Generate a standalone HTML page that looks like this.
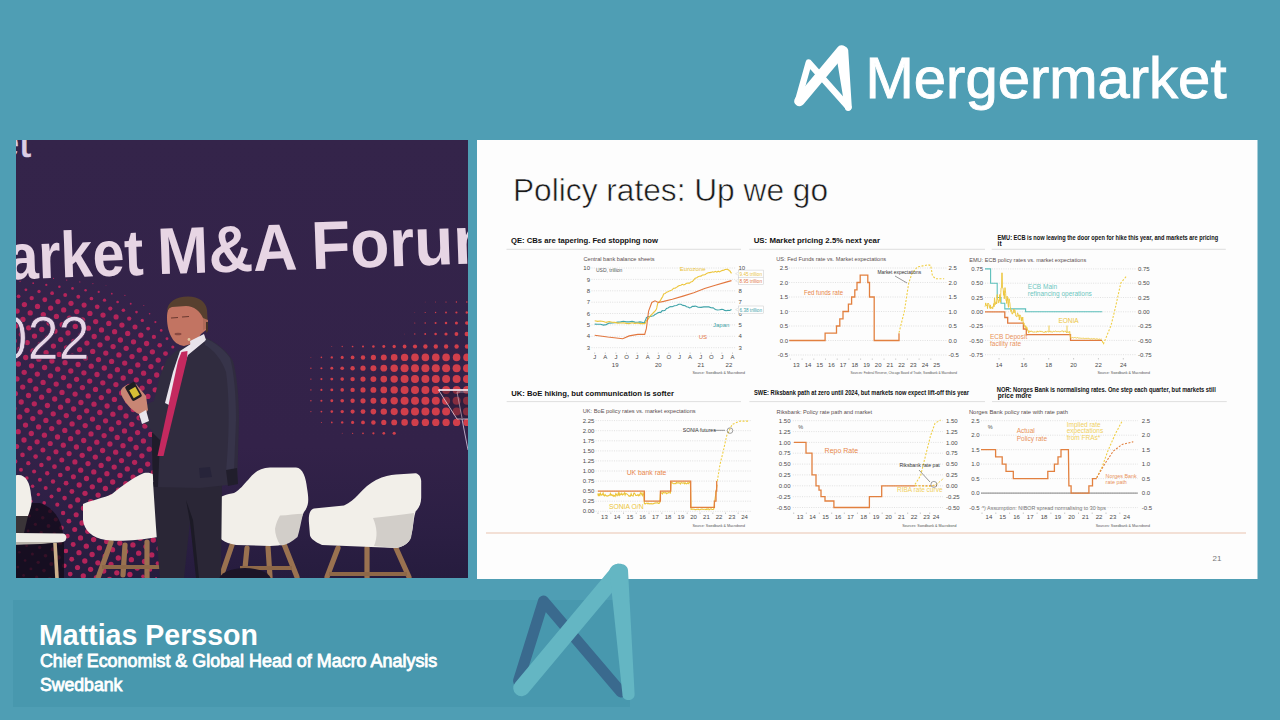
<!DOCTYPE html>
<html><head><meta charset="utf-8"><title>Mergermarket - Policy rates</title>
<style>
html,body{margin:0;padding:0;}
body{width:1280px;height:720px;overflow:hidden;background:#4f9eb4;font-family:"Liberation Sans",Arial,sans-serif;}
svg{display:block;}
</style></head><body>
<svg width="1280" height="720" viewBox="0 0 1280 720" font-family="Liberation Sans, Arial, sans-serif">
<defs>
<linearGradient id="pg" x1="0" y1="0" x2="0" y2="1"><stop offset="0" stop-color="#34244a"/><stop offset="0.7" stop-color="#332249"/><stop offset="0.88" stop-color="#2c1f44"/><stop offset="1" stop-color="#261c3e"/></linearGradient>
</defs>
<clipPath id="pc"><rect x="16" y="140" width="452" height="438"/></clipPath>
<g clip-path="url(#pc)">
<rect x="16" y="140" width="452" height="438" fill="url(#pg)"/>
<g fill="#b5245a"><circle cx="10.5" cy="573.7" r="1.32"/><circle cx="16.3" cy="582.0" r="1.32"/><circle cx="12.0" cy="558.8" r="1.32"/><circle cx="17.8" cy="567.1" r="1.32"/><circle cx="23.6" cy="575.4" r="1.32"/><circle cx="29.4" cy="583.7" r="1.43"/><circle cx="13.5" cy="544.0" r="1.32"/><circle cx="19.3" cy="552.2" r="1.32"/><circle cx="25.1" cy="560.5" r="1.33"/><circle cx="30.9" cy="568.9" r="1.47"/><circle cx="36.7" cy="577.2" r="1.61"/><circle cx="9.2" cy="520.8" r="1.32"/><circle cx="15.0" cy="529.1" r="1.32"/><circle cx="20.8" cy="537.4" r="1.32"/><circle cx="26.6" cy="545.7" r="1.36"/><circle cx="32.4" cy="554.0" r="1.50"/><circle cx="38.2" cy="562.3" r="1.64"/><circle cx="44.0" cy="570.6" r="1.78"/><circle cx="49.8" cy="578.9" r="1.92"/><circle cx="10.7" cy="506.0" r="1.32"/><circle cx="16.5" cy="514.2" r="1.32"/><circle cx="22.3" cy="522.5" r="1.32"/><circle cx="28.1" cy="530.9" r="1.40"/><circle cx="33.9" cy="539.2" r="1.54"/><circle cx="39.7" cy="547.5" r="1.68"/><circle cx="45.5" cy="555.8" r="1.82"/><circle cx="51.3" cy="564.0" r="1.96"/><circle cx="57.1" cy="572.4" r="2.10"/><circle cx="62.9" cy="580.7" r="2.24"/><circle cx="12.2" cy="491.1" r="1.52"/><circle cx="18.0" cy="499.4" r="1.34"/><circle cx="23.8" cy="507.7" r="1.32"/><circle cx="29.6" cy="516.0" r="1.44"/><circle cx="35.4" cy="524.3" r="1.58"/><circle cx="41.2" cy="532.6" r="1.72"/><circle cx="47.0" cy="540.9" r="1.85"/><circle cx="52.8" cy="549.2" r="1.99"/><circle cx="58.6" cy="557.5" r="2.13"/><circle cx="64.4" cy="565.8" r="2.27"/><circle cx="70.2" cy="574.1" r="2.41"/><circle cx="76.0" cy="582.4" r="2.55"/><circle cx="13.7" cy="476.2" r="1.85"/><circle cx="19.5" cy="484.6" r="1.67"/><circle cx="25.3" cy="492.9" r="1.49"/><circle cx="31.1" cy="501.2" r="1.47"/><circle cx="36.9" cy="509.5" r="1.61"/><circle cx="42.7" cy="517.8" r="1.75"/><circle cx="48.5" cy="526.0" r="1.89"/><circle cx="54.3" cy="534.4" r="2.03"/><circle cx="60.1" cy="542.7" r="2.17"/><circle cx="65.9" cy="551.0" r="2.31"/><circle cx="71.7" cy="559.2" r="2.45"/><circle cx="77.5" cy="567.5" r="2.59"/><circle cx="83.3" cy="575.9" r="2.65"/><circle cx="89.1" cy="584.2" r="2.65"/><circle cx="9.4" cy="453.1" r="2.36"/><circle cx="15.2" cy="461.4" r="2.18"/><circle cx="21.0" cy="469.7" r="1.99"/><circle cx="26.8" cy="478.0" r="1.84"/><circle cx="32.6" cy="486.3" r="1.77"/><circle cx="38.4" cy="494.6" r="1.74"/><circle cx="44.2" cy="502.9" r="1.79"/><circle cx="50.0" cy="511.2" r="1.93"/><circle cx="55.8" cy="519.5" r="2.07"/><circle cx="61.6" cy="527.8" r="2.21"/><circle cx="67.4" cy="536.1" r="2.35"/><circle cx="73.2" cy="544.4" r="2.49"/><circle cx="79.0" cy="552.7" r="2.63"/><circle cx="84.8" cy="561.0" r="2.65"/><circle cx="90.6" cy="569.3" r="2.65"/><circle cx="96.4" cy="577.6" r="2.65"/><circle cx="10.9" cy="438.2" r="2.65"/><circle cx="16.7" cy="446.6" r="2.51"/><circle cx="22.5" cy="454.9" r="2.32"/><circle cx="28.3" cy="463.2" r="2.17"/><circle cx="34.1" cy="471.5" r="2.07"/><circle cx="39.9" cy="479.8" r="2.01"/><circle cx="45.7" cy="488.1" r="1.99"/><circle cx="51.5" cy="496.4" r="2.01"/><circle cx="57.3" cy="504.7" r="2.10"/><circle cx="63.1" cy="513.0" r="2.24"/><circle cx="68.9" cy="521.2" r="2.38"/><circle cx="74.7" cy="529.5" r="2.52"/><circle cx="80.5" cy="537.9" r="2.65"/><circle cx="86.3" cy="546.2" r="2.65"/><circle cx="92.1" cy="554.5" r="2.65"/><circle cx="97.9" cy="562.8" r="2.65"/><circle cx="103.7" cy="571.0" r="2.65"/><circle cx="109.5" cy="579.4" r="2.65"/><circle cx="12.4" cy="423.4" r="2.65"/><circle cx="18.2" cy="431.7" r="2.65"/><circle cx="24.0" cy="440.0" r="2.65"/><circle cx="29.8" cy="448.3" r="2.48"/><circle cx="35.6" cy="456.6" r="2.35"/><circle cx="41.4" cy="464.9" r="2.26"/><circle cx="47.2" cy="473.2" r="2.21"/><circle cx="53.0" cy="481.5" r="2.20"/><circle cx="58.8" cy="489.8" r="2.23"/><circle cx="64.6" cy="498.1" r="2.29"/><circle cx="70.4" cy="506.4" r="2.42"/><circle cx="76.2" cy="514.7" r="2.56"/><circle cx="82.0" cy="523.0" r="2.65"/><circle cx="87.8" cy="531.3" r="2.65"/><circle cx="93.6" cy="539.6" r="2.65"/><circle cx="99.4" cy="547.9" r="2.65"/><circle cx="105.2" cy="556.2" r="2.65"/><circle cx="111.0" cy="564.5" r="2.65"/><circle cx="116.8" cy="572.8" r="2.65"/><circle cx="122.6" cy="581.1" r="2.49"/><circle cx="8.1" cy="400.2" r="2.65"/><circle cx="13.9" cy="408.6" r="2.65"/><circle cx="19.7" cy="416.9" r="2.65"/><circle cx="25.5" cy="425.1" r="2.65"/><circle cx="31.3" cy="433.5" r="2.65"/><circle cx="37.1" cy="441.8" r="2.62"/><circle cx="42.9" cy="450.1" r="2.50"/><circle cx="48.7" cy="458.4" r="2.42"/><circle cx="54.5" cy="466.7" r="2.38"/><circle cx="60.3" cy="475.0" r="2.37"/><circle cx="66.1" cy="483.2" r="2.41"/><circle cx="71.9" cy="491.6" r="2.48"/><circle cx="77.7" cy="499.9" r="2.59"/><circle cx="83.5" cy="508.2" r="2.65"/><circle cx="89.3" cy="516.5" r="2.65"/><circle cx="95.1" cy="524.8" r="2.65"/><circle cx="100.9" cy="533.0" r="2.65"/><circle cx="106.7" cy="541.4" r="2.65"/><circle cx="112.5" cy="549.7" r="2.65"/><circle cx="118.3" cy="558.0" r="2.65"/><circle cx="124.1" cy="566.2" r="2.65"/><circle cx="129.9" cy="574.5" r="2.65"/><circle cx="135.7" cy="582.9" r="1.76"/><circle cx="9.6" cy="385.4" r="2.65"/><circle cx="15.4" cy="393.7" r="2.65"/><circle cx="21.2" cy="402.0" r="2.65"/><circle cx="27.0" cy="410.3" r="2.65"/><circle cx="32.8" cy="418.6" r="2.65"/><circle cx="38.6" cy="426.9" r="2.65"/><circle cx="44.4" cy="435.2" r="2.65"/><circle cx="50.2" cy="443.5" r="2.61"/><circle cx="56.0" cy="451.8" r="2.54"/><circle cx="61.8" cy="460.1" r="2.50"/><circle cx="67.6" cy="468.4" r="2.51"/><circle cx="73.4" cy="476.7" r="2.55"/><circle cx="79.2" cy="485.0" r="2.64"/><circle cx="85.0" cy="493.3" r="2.65"/><circle cx="90.8" cy="501.6" r="2.65"/><circle cx="96.6" cy="509.9" r="2.65"/><circle cx="102.4" cy="518.2" r="2.65"/><circle cx="108.2" cy="526.5" r="2.65"/><circle cx="114.0" cy="534.8" r="2.65"/><circle cx="119.8" cy="543.1" r="2.65"/><circle cx="125.6" cy="551.4" r="2.65"/><circle cx="131.4" cy="559.7" r="2.65"/><circle cx="137.2" cy="568.0" r="2.65"/><circle cx="143.0" cy="576.3" r="1.87"/><circle cx="148.8" cy="584.6" r="0.97"/><circle cx="11.1" cy="370.6" r="2.65"/><circle cx="16.9" cy="378.9" r="2.65"/><circle cx="22.7" cy="387.1" r="2.65"/><circle cx="28.5" cy="395.5" r="2.65"/><circle cx="34.3" cy="403.8" r="2.65"/><circle cx="40.1" cy="412.1" r="2.65"/><circle cx="45.9" cy="420.4" r="2.65"/><circle cx="51.7" cy="428.6" r="2.65"/><circle cx="57.5" cy="437.0" r="2.65"/><circle cx="63.3" cy="445.2" r="2.61"/><circle cx="69.1" cy="453.6" r="2.59"/><circle cx="74.9" cy="461.9" r="2.61"/><circle cx="80.7" cy="470.2" r="2.65"/><circle cx="86.5" cy="478.5" r="2.65"/><circle cx="92.3" cy="486.8" r="2.65"/><circle cx="98.1" cy="495.1" r="2.65"/><circle cx="103.9" cy="503.4" r="2.65"/><circle cx="109.7" cy="511.7" r="2.65"/><circle cx="115.5" cy="520.0" r="2.65"/><circle cx="121.3" cy="528.2" r="2.65"/><circle cx="127.1" cy="536.5" r="2.65"/><circle cx="132.9" cy="544.9" r="2.65"/><circle cx="138.7" cy="553.2" r="2.65"/><circle cx="144.5" cy="561.5" r="2.65"/><circle cx="150.3" cy="569.8" r="1.93"/><circle cx="156.1" cy="578.0" r="1.03"/><circle cx="12.6" cy="355.7" r="2.65"/><circle cx="18.4" cy="364.0" r="2.65"/><circle cx="24.2" cy="372.3" r="2.65"/><circle cx="30.0" cy="380.6" r="2.65"/><circle cx="35.8" cy="388.9" r="2.65"/><circle cx="41.6" cy="397.2" r="2.65"/><circle cx="47.4" cy="405.5" r="2.65"/><circle cx="53.2" cy="413.8" r="2.65"/><circle cx="59.0" cy="422.1" r="2.65"/><circle cx="64.8" cy="430.4" r="2.65"/><circle cx="70.6" cy="438.7" r="2.65"/><circle cx="76.4" cy="447.0" r="2.64"/><circle cx="82.2" cy="455.3" r="2.65"/><circle cx="88.0" cy="463.6" r="2.65"/><circle cx="93.8" cy="471.9" r="2.65"/><circle cx="99.6" cy="480.2" r="2.65"/><circle cx="105.4" cy="488.5" r="2.65"/><circle cx="111.2" cy="496.8" r="2.65"/><circle cx="117.0" cy="505.1" r="2.65"/><circle cx="122.8" cy="513.4" r="2.65"/><circle cx="128.6" cy="521.7" r="2.65"/><circle cx="134.4" cy="530.0" r="2.65"/><circle cx="140.2" cy="538.3" r="2.65"/><circle cx="146.0" cy="546.6" r="2.65"/><circle cx="151.8" cy="554.9" r="2.65"/><circle cx="157.6" cy="563.2" r="1.93"/><circle cx="163.4" cy="571.5" r="1.04"/><circle cx="8.3" cy="332.6" r="2.65"/><circle cx="14.1" cy="340.9" r="2.65"/><circle cx="19.9" cy="349.1" r="2.65"/><circle cx="25.7" cy="357.5" r="2.65"/><circle cx="31.5" cy="365.8" r="2.65"/><circle cx="37.3" cy="374.1" r="2.65"/><circle cx="43.1" cy="382.4" r="2.65"/><circle cx="48.9" cy="390.6" r="2.65"/><circle cx="54.7" cy="399.0" r="2.65"/><circle cx="60.5" cy="407.2" r="2.65"/><circle cx="66.3" cy="415.6" r="2.65"/><circle cx="72.1" cy="423.9" r="2.65"/><circle cx="77.9" cy="432.1" r="2.65"/><circle cx="83.7" cy="440.5" r="2.65"/><circle cx="89.5" cy="448.8" r="2.65"/><circle cx="95.3" cy="457.1" r="2.65"/><circle cx="101.1" cy="465.4" r="2.65"/><circle cx="106.9" cy="473.7" r="2.65"/><circle cx="112.7" cy="482.0" r="2.65"/><circle cx="118.5" cy="490.2" r="2.65"/><circle cx="124.3" cy="498.6" r="2.65"/><circle cx="130.1" cy="506.9" r="2.65"/><circle cx="135.9" cy="515.2" r="2.65"/><circle cx="141.7" cy="523.5" r="2.65"/><circle cx="147.5" cy="531.8" r="2.65"/><circle cx="153.3" cy="540.0" r="2.65"/><circle cx="159.1" cy="548.4" r="2.65"/><circle cx="164.9" cy="556.7" r="1.88"/><circle cx="170.7" cy="565.0" r="1.00"/><circle cx="9.8" cy="317.7" r="2.65"/><circle cx="15.6" cy="326.0" r="2.65"/><circle cx="21.4" cy="334.3" r="2.65"/><circle cx="27.2" cy="342.6" r="2.65"/><circle cx="33.0" cy="350.9" r="2.65"/><circle cx="38.8" cy="359.2" r="2.65"/><circle cx="44.6" cy="367.5" r="2.65"/><circle cx="50.4" cy="375.8" r="2.65"/><circle cx="56.2" cy="384.1" r="2.65"/><circle cx="62.0" cy="392.4" r="2.65"/><circle cx="67.8" cy="400.7" r="2.65"/><circle cx="73.6" cy="409.0" r="2.65"/><circle cx="79.4" cy="417.3" r="2.65"/><circle cx="85.2" cy="425.6" r="2.65"/><circle cx="91.0" cy="433.9" r="2.65"/><circle cx="96.8" cy="442.2" r="2.65"/><circle cx="102.6" cy="450.5" r="2.65"/><circle cx="108.4" cy="458.8" r="2.65"/><circle cx="114.2" cy="467.1" r="2.65"/><circle cx="120.0" cy="475.4" r="2.65"/><circle cx="125.8" cy="483.7" r="2.65"/><circle cx="131.6" cy="492.0" r="2.65"/><circle cx="137.4" cy="500.3" r="2.65"/><circle cx="143.2" cy="508.6" r="2.65"/><circle cx="149.0" cy="516.9" r="2.65"/><circle cx="154.8" cy="525.2" r="2.65"/><circle cx="160.6" cy="533.5" r="2.65"/><circle cx="166.4" cy="541.8" r="2.63"/><circle cx="172.2" cy="550.1" r="1.77"/><circle cx="178.0" cy="558.4" r="0.91"/><circle cx="11.3" cy="302.9" r="2.28"/><circle cx="17.1" cy="311.1" r="2.65"/><circle cx="22.9" cy="319.4" r="2.65"/><circle cx="28.7" cy="327.8" r="2.65"/><circle cx="34.5" cy="336.1" r="2.65"/><circle cx="40.3" cy="344.4" r="2.65"/><circle cx="46.1" cy="352.6" r="2.65"/><circle cx="51.9" cy="361.0" r="2.65"/><circle cx="57.7" cy="369.2" r="2.65"/><circle cx="63.5" cy="377.6" r="2.65"/><circle cx="69.3" cy="385.9" r="2.65"/><circle cx="75.1" cy="394.1" r="2.65"/><circle cx="80.9" cy="402.5" r="2.65"/><circle cx="86.7" cy="410.8" r="2.65"/><circle cx="92.5" cy="419.1" r="2.65"/><circle cx="98.3" cy="427.4" r="2.65"/><circle cx="104.1" cy="435.6" r="2.65"/><circle cx="109.9" cy="444.0" r="2.65"/><circle cx="115.7" cy="452.2" r="2.65"/><circle cx="121.5" cy="460.6" r="2.65"/><circle cx="127.3" cy="468.9" r="2.65"/><circle cx="133.1" cy="477.2" r="2.65"/><circle cx="138.9" cy="485.5" r="2.65"/><circle cx="144.7" cy="493.8" r="2.65"/><circle cx="150.5" cy="502.1" r="2.65"/><circle cx="156.3" cy="510.4" r="2.65"/><circle cx="162.1" cy="518.7" r="2.65"/><circle cx="167.9" cy="527.0" r="2.65"/><circle cx="173.7" cy="535.2" r="2.45"/><circle cx="179.5" cy="543.5" r="1.61"/><circle cx="12.8" cy="288.0" r="1.04"/><circle cx="18.6" cy="296.3" r="1.87"/><circle cx="24.4" cy="304.6" r="2.65"/><circle cx="30.2" cy="312.9" r="2.65"/><circle cx="36.0" cy="321.2" r="2.65"/><circle cx="41.8" cy="329.5" r="2.65"/><circle cx="47.6" cy="337.8" r="2.65"/><circle cx="53.4" cy="346.1" r="2.65"/><circle cx="59.2" cy="354.4" r="2.65"/><circle cx="65.0" cy="362.7" r="2.65"/><circle cx="70.8" cy="371.0" r="2.65"/><circle cx="76.6" cy="379.3" r="2.65"/><circle cx="82.4" cy="387.6" r="2.65"/><circle cx="88.2" cy="395.9" r="2.65"/><circle cx="94.0" cy="404.2" r="2.65"/><circle cx="99.8" cy="412.5" r="2.65"/><circle cx="105.6" cy="420.8" r="2.65"/><circle cx="111.4" cy="429.1" r="2.65"/><circle cx="117.2" cy="437.4" r="2.65"/><circle cx="123.0" cy="445.7" r="2.65"/><circle cx="128.8" cy="454.0" r="2.65"/><circle cx="134.6" cy="462.3" r="2.65"/><circle cx="140.4" cy="470.6" r="2.65"/><circle cx="146.2" cy="478.9" r="2.65"/><circle cx="152.0" cy="487.2" r="2.65"/><circle cx="157.8" cy="495.5" r="2.65"/><circle cx="163.6" cy="503.8" r="2.65"/><circle cx="169.4" cy="512.1" r="2.65"/><circle cx="175.2" cy="520.4" r="2.65"/><circle cx="20.1" cy="281.4" r="0.60"/><circle cx="25.9" cy="289.8" r="1.41"/><circle cx="31.7" cy="298.1" r="2.20"/><circle cx="37.5" cy="306.4" r="2.65"/><circle cx="43.3" cy="314.6" r="2.65"/><circle cx="49.1" cy="322.9" r="2.65"/><circle cx="54.9" cy="331.2" r="2.65"/><circle cx="60.7" cy="339.6" r="2.65"/><circle cx="66.5" cy="347.9" r="2.65"/><circle cx="72.3" cy="356.1" r="2.65"/><circle cx="78.1" cy="364.5" r="2.65"/><circle cx="83.9" cy="372.8" r="2.65"/><circle cx="89.7" cy="381.1" r="2.65"/><circle cx="95.5" cy="389.4" r="2.65"/><circle cx="101.3" cy="397.6" r="2.65"/><circle cx="107.1" cy="406.0" r="2.65"/><circle cx="112.9" cy="414.2" r="2.65"/><circle cx="118.7" cy="422.6" r="2.65"/><circle cx="124.5" cy="430.9" r="2.65"/><circle cx="130.3" cy="439.1" r="2.65"/><circle cx="136.1" cy="447.5" r="2.65"/><circle cx="141.9" cy="455.8" r="2.65"/><circle cx="147.7" cy="464.1" r="2.65"/><circle cx="153.5" cy="472.4" r="2.65"/><circle cx="159.3" cy="480.7" r="2.65"/><circle cx="165.1" cy="489.0" r="2.65"/><circle cx="170.9" cy="497.2" r="2.65"/><circle cx="176.7" cy="505.6" r="2.65"/><circle cx="33.2" cy="283.2" r="0.91"/><circle cx="39.0" cy="291.5" r="1.69"/><circle cx="44.8" cy="299.8" r="2.45"/><circle cx="50.6" cy="308.1" r="2.65"/><circle cx="56.4" cy="316.4" r="2.65"/><circle cx="62.2" cy="324.7" r="2.65"/><circle cx="68.0" cy="333.0" r="2.65"/><circle cx="73.8" cy="341.3" r="2.65"/><circle cx="79.6" cy="349.6" r="2.65"/><circle cx="85.4" cy="357.9" r="2.65"/><circle cx="91.2" cy="366.2" r="2.65"/><circle cx="97.0" cy="374.5" r="2.65"/><circle cx="102.8" cy="382.8" r="2.65"/><circle cx="108.6" cy="391.1" r="2.65"/><circle cx="114.4" cy="399.4" r="2.65"/><circle cx="120.2" cy="407.7" r="2.65"/><circle cx="126.0" cy="416.0" r="2.65"/><circle cx="131.8" cy="424.3" r="2.65"/><circle cx="137.6" cy="432.6" r="2.65"/><circle cx="143.4" cy="440.9" r="2.65"/><circle cx="149.2" cy="449.2" r="2.65"/><circle cx="155.0" cy="457.5" r="2.65"/><circle cx="160.8" cy="465.8" r="2.65"/><circle cx="166.6" cy="474.1" r="2.65"/><circle cx="172.4" cy="482.4" r="2.65"/><circle cx="178.2" cy="490.7" r="2.65"/><circle cx="46.3" cy="284.9" r="1.14"/><circle cx="52.1" cy="293.2" r="1.88"/><circle cx="57.9" cy="301.6" r="2.59"/><circle cx="63.7" cy="309.9" r="2.65"/><circle cx="69.5" cy="318.1" r="2.65"/><circle cx="75.3" cy="326.4" r="2.65"/><circle cx="81.1" cy="334.8" r="2.65"/><circle cx="86.9" cy="343.1" r="2.65"/><circle cx="92.7" cy="351.4" r="2.65"/><circle cx="98.5" cy="359.6" r="2.65"/><circle cx="104.3" cy="368.0" r="2.65"/><circle cx="110.1" cy="376.2" r="2.65"/><circle cx="115.9" cy="384.6" r="2.65"/><circle cx="121.7" cy="392.9" r="2.65"/><circle cx="127.5" cy="401.1" r="2.65"/><circle cx="133.3" cy="409.5" r="2.65"/><circle cx="139.1" cy="417.8" r="2.65"/><circle cx="144.9" cy="426.1" r="2.65"/><circle cx="150.7" cy="434.4" r="2.65"/><circle cx="156.5" cy="442.6" r="2.65"/><circle cx="162.3" cy="451.0" r="2.65"/><circle cx="168.1" cy="459.2" r="2.65"/><circle cx="173.9" cy="467.6" r="2.65"/><circle cx="179.7" cy="475.9" r="2.65"/><circle cx="53.6" cy="278.4" r="0.56"/><circle cx="59.4" cy="286.7" r="1.27"/><circle cx="65.2" cy="295.0" r="1.97"/><circle cx="71.0" cy="303.3" r="2.63"/><circle cx="76.8" cy="311.6" r="2.65"/><circle cx="82.6" cy="319.9" r="2.65"/><circle cx="88.4" cy="328.2" r="2.65"/><circle cx="94.2" cy="336.5" r="2.65"/><circle cx="100.0" cy="344.8" r="2.65"/><circle cx="105.8" cy="353.1" r="2.65"/><circle cx="111.6" cy="361.4" r="2.65"/><circle cx="117.4" cy="369.7" r="2.65"/><circle cx="123.2" cy="378.0" r="2.65"/><circle cx="129.0" cy="386.3" r="2.65"/><circle cx="134.8" cy="394.6" r="2.65"/><circle cx="140.6" cy="402.9" r="2.65"/><circle cx="146.4" cy="411.2" r="2.65"/><circle cx="152.2" cy="419.5" r="2.65"/><circle cx="158.0" cy="427.8" r="2.65"/><circle cx="163.8" cy="436.1" r="2.65"/><circle cx="169.6" cy="444.4" r="2.65"/><circle cx="175.4" cy="452.7" r="2.65"/><circle cx="66.7" cy="280.1" r="0.65"/><circle cx="72.5" cy="288.4" r="1.32"/><circle cx="78.3" cy="296.8" r="1.96"/><circle cx="84.1" cy="305.1" r="2.57"/><circle cx="89.9" cy="313.4" r="2.65"/><circle cx="95.7" cy="321.6" r="2.65"/><circle cx="101.5" cy="329.9" r="2.65"/><circle cx="107.3" cy="338.2" r="2.65"/><circle cx="113.1" cy="346.6" r="2.65"/><circle cx="118.9" cy="354.9" r="2.65"/><circle cx="124.7" cy="363.1" r="2.65"/><circle cx="130.5" cy="371.5" r="2.65"/><circle cx="136.3" cy="379.8" r="2.65"/><circle cx="142.1" cy="388.1" r="2.65"/><circle cx="147.9" cy="396.4" r="2.65"/><circle cx="153.7" cy="404.6" r="2.65"/><circle cx="159.5" cy="413.0" r="2.65"/><circle cx="165.3" cy="421.2" r="2.65"/><circle cx="171.1" cy="429.6" r="2.65"/><circle cx="176.9" cy="437.9" r="2.65"/><circle cx="79.8" cy="281.9" r="0.64"/><circle cx="85.6" cy="290.2" r="1.26"/><circle cx="91.4" cy="298.5" r="1.85"/><circle cx="97.2" cy="306.8" r="2.40"/><circle cx="103.0" cy="315.1" r="2.65"/><circle cx="108.8" cy="323.4" r="2.65"/><circle cx="114.6" cy="331.7" r="2.65"/><circle cx="120.4" cy="340.0" r="2.65"/><circle cx="126.2" cy="348.3" r="2.65"/><circle cx="132.0" cy="356.6" r="2.65"/><circle cx="137.8" cy="364.9" r="2.65"/><circle cx="143.6" cy="373.2" r="2.65"/><circle cx="149.4" cy="381.5" r="2.65"/><circle cx="155.2" cy="389.8" r="2.65"/><circle cx="161.0" cy="398.1" r="2.65"/><circle cx="166.8" cy="406.4" r="2.65"/><circle cx="172.6" cy="414.7" r="2.65"/><circle cx="178.4" cy="423.0" r="2.65"/><circle cx="92.9" cy="283.6" r="0.55"/><circle cx="98.7" cy="291.9" r="1.11"/><circle cx="104.5" cy="300.2" r="1.65"/><circle cx="110.3" cy="308.6" r="2.14"/><circle cx="116.1" cy="316.9" r="2.59"/><circle cx="121.9" cy="325.1" r="2.65"/><circle cx="127.7" cy="333.4" r="2.65"/><circle cx="133.5" cy="341.8" r="2.65"/><circle cx="139.3" cy="350.1" r="2.65"/><circle cx="145.1" cy="358.4" r="2.65"/><circle cx="150.9" cy="366.6" r="2.65"/><circle cx="156.7" cy="375.0" r="2.65"/><circle cx="162.5" cy="383.2" r="2.65"/><circle cx="168.3" cy="391.6" r="2.65"/><circle cx="174.1" cy="399.9" r="2.65"/><circle cx="179.9" cy="408.1" r="2.65"/><circle cx="106.0" cy="285.4" r="0.37"/><circle cx="111.8" cy="293.7" r="0.88"/><circle cx="117.6" cy="302.0" r="1.35"/><circle cx="123.4" cy="310.3" r="1.78"/><circle cx="129.2" cy="318.6" r="2.17"/><circle cx="135.0" cy="326.9" r="2.51"/><circle cx="140.8" cy="335.2" r="2.65"/><circle cx="146.6" cy="343.5" r="2.65"/><circle cx="152.4" cy="351.8" r="2.65"/><circle cx="158.2" cy="360.1" r="2.65"/><circle cx="164.0" cy="368.4" r="2.65"/><circle cx="169.8" cy="376.7" r="2.65"/><circle cx="175.6" cy="385.0" r="2.65"/><circle cx="124.9" cy="295.4" r="0.55"/><circle cx="130.7" cy="303.8" r="0.97"/><circle cx="136.5" cy="312.1" r="1.34"/><circle cx="142.3" cy="320.4" r="1.67"/><circle cx="148.1" cy="328.6" r="1.94"/><circle cx="153.9" cy="336.9" r="2.16"/><circle cx="159.7" cy="345.2" r="2.32"/><circle cx="165.5" cy="353.6" r="2.43"/><circle cx="171.3" cy="361.9" r="2.48"/><circle cx="177.1" cy="370.1" r="2.46"/><circle cx="143.8" cy="305.5" r="0.51"/><circle cx="149.6" cy="313.8" r="0.82"/><circle cx="155.4" cy="322.1" r="1.08"/><circle cx="161.2" cy="330.4" r="1.30"/><circle cx="167.0" cy="338.7" r="1.46"/><circle cx="172.8" cy="347.0" r="1.57"/><circle cx="178.6" cy="355.3" r="1.62"/><circle cx="168.5" cy="323.9" r="0.43"/><circle cx="174.3" cy="332.1" r="0.59"/></g>
<g fill="#d13f4b"><circle cx="331.8" cy="346.5" r="0.44"/><circle cx="342.2" cy="346.5" r="0.64"/><circle cx="352.6" cy="346.5" r="0.85"/><circle cx="363.0" cy="346.5" r="1.06"/><circle cx="373.4" cy="346.5" r="1.27"/><circle cx="383.8" cy="346.5" r="1.48"/><circle cx="394.2" cy="346.5" r="1.68"/><circle cx="404.6" cy="346.5" r="1.89"/><circle cx="415.0" cy="346.5" r="2.10"/><circle cx="425.4" cy="346.5" r="2.20"/><circle cx="435.8" cy="346.5" r="2.20"/><circle cx="446.1" cy="346.5" r="2.20"/><circle cx="456.6" cy="346.5" r="2.20"/><circle cx="467.0" cy="346.5" r="2.20"/><circle cx="477.4" cy="346.5" r="2.20"/><circle cx="310.9" cy="357.4" r="0.45"/><circle cx="321.4" cy="357.4" r="0.81"/><circle cx="331.8" cy="357.4" r="1.17"/><circle cx="342.2" cy="357.4" r="1.53"/><circle cx="352.6" cy="357.4" r="1.88"/><circle cx="363.0" cy="357.4" r="2.24"/><circle cx="373.4" cy="357.4" r="2.60"/><circle cx="383.8" cy="357.4" r="2.96"/><circle cx="394.2" cy="357.4" r="3.32"/><circle cx="404.6" cy="357.4" r="3.68"/><circle cx="415.0" cy="357.4" r="3.80"/><circle cx="425.4" cy="357.4" r="3.80"/><circle cx="435.8" cy="357.4" r="3.80"/><circle cx="446.1" cy="357.4" r="3.80"/><circle cx="456.6" cy="357.4" r="3.80"/><circle cx="467.0" cy="357.4" r="3.80"/><circle cx="477.4" cy="357.4" r="3.80"/><circle cx="310.9" cy="368.2" r="0.69"/><circle cx="321.4" cy="368.2" r="1.07"/><circle cx="331.8" cy="368.2" r="1.45"/><circle cx="342.2" cy="368.2" r="1.82"/><circle cx="352.6" cy="368.2" r="2.20"/><circle cx="363.0" cy="368.2" r="2.58"/><circle cx="373.4" cy="368.2" r="2.96"/><circle cx="383.8" cy="368.2" r="3.34"/><circle cx="394.2" cy="368.2" r="3.71"/><circle cx="404.6" cy="368.2" r="4.00"/><circle cx="415.0" cy="368.2" r="4.00"/><circle cx="425.4" cy="368.2" r="4.00"/><circle cx="435.8" cy="368.2" r="4.00"/><circle cx="446.1" cy="368.2" r="4.00"/><circle cx="456.6" cy="368.2" r="4.00"/><circle cx="467.0" cy="368.2" r="4.00"/><circle cx="477.4" cy="368.2" r="4.00"/><circle cx="310.9" cy="379.1" r="0.69"/><circle cx="321.4" cy="379.1" r="1.07"/><circle cx="331.8" cy="379.1" r="1.45"/><circle cx="342.2" cy="379.1" r="1.82"/><circle cx="352.6" cy="379.1" r="2.20"/><circle cx="363.0" cy="379.1" r="2.58"/><circle cx="373.4" cy="379.1" r="2.96"/><circle cx="383.8" cy="379.1" r="3.34"/><circle cx="394.2" cy="379.1" r="3.71"/><circle cx="404.6" cy="379.1" r="4.00"/><circle cx="415.0" cy="379.1" r="4.00"/><circle cx="425.4" cy="379.1" r="4.00"/><circle cx="435.8" cy="379.1" r="4.00"/><circle cx="446.1" cy="379.1" r="4.00"/><circle cx="456.6" cy="379.1" r="4.00"/><circle cx="467.0" cy="379.1" r="4.00"/><circle cx="477.4" cy="379.1" r="4.00"/><circle cx="310.9" cy="389.9" r="0.69"/><circle cx="321.4" cy="389.9" r="1.07"/><circle cx="331.8" cy="389.9" r="1.45"/><circle cx="342.2" cy="389.9" r="1.82"/><circle cx="352.6" cy="389.9" r="2.20"/><circle cx="363.0" cy="389.9" r="2.58"/><circle cx="373.4" cy="389.9" r="2.96"/><circle cx="383.8" cy="389.9" r="3.34"/><circle cx="394.2" cy="389.9" r="3.71"/><circle cx="404.6" cy="389.9" r="4.00"/><circle cx="415.0" cy="389.9" r="4.00"/><circle cx="425.4" cy="389.9" r="4.00"/><circle cx="435.8" cy="389.9" r="4.00"/><circle cx="446.1" cy="389.9" r="4.00"/><circle cx="456.6" cy="389.9" r="4.00"/><circle cx="467.0" cy="389.9" r="4.00"/><circle cx="477.4" cy="389.9" r="4.00"/><circle cx="310.9" cy="400.8" r="0.69"/><circle cx="321.4" cy="400.8" r="1.07"/><circle cx="331.8" cy="400.8" r="1.45"/><circle cx="342.2" cy="400.8" r="1.82"/><circle cx="352.6" cy="400.8" r="2.20"/><circle cx="363.0" cy="400.8" r="2.58"/><circle cx="373.4" cy="400.8" r="2.96"/><circle cx="383.8" cy="400.8" r="3.34"/><circle cx="394.2" cy="400.8" r="3.71"/><circle cx="404.6" cy="400.8" r="4.00"/><circle cx="415.0" cy="400.8" r="4.00"/><circle cx="425.4" cy="400.8" r="4.00"/><circle cx="435.8" cy="400.8" r="4.00"/><circle cx="446.1" cy="400.8" r="4.00"/><circle cx="456.6" cy="400.8" r="4.00"/><circle cx="467.0" cy="400.8" r="4.00"/><circle cx="477.4" cy="400.8" r="4.00"/><circle cx="310.9" cy="411.6" r="0.54"/><circle cx="321.4" cy="411.6" r="0.92"/><circle cx="331.8" cy="411.6" r="1.30"/><circle cx="342.2" cy="411.6" r="1.68"/><circle cx="352.6" cy="411.6" r="2.06"/><circle cx="363.0" cy="411.6" r="2.43"/><circle cx="373.4" cy="411.6" r="2.81"/><circle cx="383.8" cy="411.6" r="3.19"/><circle cx="394.2" cy="411.6" r="3.57"/><circle cx="404.6" cy="411.6" r="3.95"/><circle cx="415.0" cy="411.6" r="4.00"/><circle cx="425.4" cy="411.6" r="4.00"/><circle cx="435.8" cy="411.6" r="4.00"/><circle cx="446.1" cy="411.6" r="4.00"/><circle cx="456.6" cy="411.6" r="4.00"/><circle cx="467.0" cy="411.6" r="4.00"/><circle cx="477.4" cy="411.6" r="4.00"/><circle cx="321.4" cy="422.4" r="0.51"/><circle cx="331.8" cy="422.4" r="0.86"/><circle cx="342.2" cy="422.4" r="1.21"/><circle cx="352.6" cy="422.4" r="1.56"/><circle cx="363.0" cy="422.4" r="1.91"/><circle cx="373.4" cy="422.4" r="2.25"/><circle cx="383.8" cy="422.4" r="2.60"/><circle cx="394.2" cy="422.4" r="2.95"/><circle cx="404.6" cy="422.4" r="3.30"/><circle cx="415.0" cy="422.4" r="3.64"/><circle cx="425.4" cy="422.4" r="3.68"/><circle cx="435.8" cy="422.4" r="3.68"/><circle cx="446.1" cy="422.4" r="3.68"/><circle cx="456.6" cy="422.4" r="3.68"/><circle cx="467.0" cy="422.4" r="3.68"/><circle cx="477.4" cy="422.4" r="3.68"/><circle cx="342.2" cy="433.3" r="0.44"/><circle cx="352.6" cy="433.3" r="0.67"/><circle cx="363.0" cy="433.3" r="0.89"/><circle cx="373.4" cy="433.3" r="1.12"/><circle cx="383.8" cy="433.3" r="1.35"/><circle cx="394.2" cy="433.3" r="1.57"/><circle cx="425.2" cy="302.0" r="0.36"/><circle cx="435.6" cy="302.0" r="0.48"/><circle cx="446.0" cy="302.0" r="0.59"/><circle cx="456.4" cy="302.0" r="0.71"/><circle cx="466.8" cy="302.0" r="0.83"/><circle cx="414.8" cy="312.5" r="0.37"/><circle cx="425.2" cy="312.5" r="0.56"/><circle cx="435.6" cy="312.5" r="0.74"/><circle cx="446.0" cy="312.5" r="0.93"/><circle cx="456.4" cy="312.5" r="1.11"/><circle cx="466.8" cy="312.5" r="1.30"/><circle cx="414.8" cy="323.0" r="0.51"/><circle cx="425.2" cy="323.0" r="0.76"/><circle cx="435.6" cy="323.0" r="1.01"/><circle cx="446.0" cy="323.0" r="1.26"/><circle cx="456.4" cy="323.0" r="1.52"/><circle cx="466.8" cy="323.0" r="1.77"/><circle cx="404.4" cy="334.0" r="0.32"/><circle cx="414.8" cy="334.0" r="0.64"/><circle cx="425.2" cy="334.0" r="0.96"/><circle cx="435.6" cy="334.0" r="1.28"/><circle cx="446.0" cy="334.0" r="1.60"/><circle cx="456.4" cy="334.0" r="1.92"/><circle cx="466.8" cy="334.0" r="2.24"/></g>
<g transform="rotate(-2.0 242 271.3)" fill="#e7d5e4" font-family="Liberation Sans, Arial, sans-serif" font-weight="bold" font-size="66">
<text x="7" y="271.3" font-size="65" textLength="137" lengthAdjust="spacingAndGlyphs">arket</text>
<text x="158" y="271.3" textLength="140" lengthAdjust="spacingAndGlyphs">M&amp;A</text>
<text x="312" y="271.6" font-size="68" textLength="199" lengthAdjust="spacingAndGlyphs">Forum</text>
</g>
<text x="-35" y="359.2" fill="#e6d5e6" font-family="Liberation Sans, Arial, sans-serif" font-size="61" stroke="#33224a" stroke-width="0.7" textLength="124.8" lengthAdjust="spacingAndGlyphs">2022</text>
<text x="-4" y="157.3" fill="#dccde6" font-family="Liberation Sans, Arial, sans-serif" font-size="42" stroke="#dccde6" stroke-width="0.6">et</text>
<polygon points="438.5,390 470,390 470,419 457,419" fill="#2a1830" fill-opacity="0.45" stroke="#e6d2dc" stroke-width="0.8"/>
<line x1="438.5" y1="390" x2="470" y2="390" stroke="#f2e4ea" stroke-width="1.6"/>
<polyline points="457,392 470,392 M457,392" fill="none" stroke="#e0c8d4" stroke-width="0.6"/>
<line x1="457" y1="392" x2="462" y2="418" stroke="#d8c0cc" stroke-width="0.6"/>
<line x1="462" y1="419" x2="468" y2="450" stroke="#c8b8d0" stroke-width="0.9"/>
<path d="M16,503 L40,503 C55,508 64,522 64,545 L64,578 L16,578 Z" fill="#120a18" fill-opacity="0.78"/>
<path d="M10,478 C22,470 30,478 31,495 C33,503 30,510 28,516 L10,518 Z" fill="#f2efe9"/>
<path d="M16,516 L28,516 L24,533 L16,533 Z" fill="#3a3438"/>
<line x1="55" y1="543" x2="57" y2="578" stroke="#cdb08c" stroke-width="3.6"/>
<path d="M10,533 L63,533.5 C67.5,534 67.5,541 63,542 L40,543.5 L10,544.5 Z" fill="#eeebe6"/>
<path d="M10,542 L63,542 L40,544 L10,545 Z" fill="#b8b2aa"/>
<line x1="111" y1="542" x2="98" y2="578" stroke="#9a7250" stroke-width="5.2" stroke-linecap="round"/>
<line x1="147" y1="542" x2="147" y2="578" stroke="#9a7250" stroke-width="5.2" stroke-linecap="round"/>
<line x1="125" y1="545" x2="123" y2="575" stroke="#9a7250" stroke-width="5.2" stroke-linecap="round"/>
<line x1="102" y1="567" x2="160" y2="567" stroke="#8e6848" stroke-width="4"/>
<path d="M83,504 C92,500 104,498 112,494 C122,486 132,478 144,473 C150,472 156,474 158,480 L158,537 C140,540 118,542 106,540 C92,538 84,530 83,520 Z" fill="#f2efe9"/>
<line x1="232" y1="545" x2="221" y2="577" stroke="#9a7250" stroke-width="5.2" stroke-linecap="round"/>
<line x1="247" y1="548" x2="245" y2="568" stroke="#9a7250" stroke-width="5.2" stroke-linecap="round"/>
<line x1="284" y1="544" x2="297" y2="577" stroke="#9a7250" stroke-width="5.2" stroke-linecap="round"/>
<line x1="268" y1="547" x2="270" y2="577" stroke="#9a7250" stroke-width="5.2" stroke-linecap="round"/>
<line x1="240" y1="568" x2="292" y2="568" stroke="#8e6848" stroke-width="4"/>
<path d="M216.5,502 C218,496 228,494 234,493 C240,490 244,484 248,480 C254,472 260,468 270,467.5 L296,467.5 C303,468 306,478 307,488 C309,500 309,506 304,512 C300,520 299,530 296,537 C290,543 282,546 270,546 L236,545 C224,543 217,538 216,530 Z" fill="#f2efe9"/>
<path d="M280,515.6 C288,515 296,514 303,513.7 C301,522 299.5,531 297.5,537 C292,542 286,545 280.6,545.6 C277,540 275,534 275,528.7 C276,523 278,519 280,515.6 Z" fill="#d2cec9"/>
<line x1="338" y1="548" x2="327" y2="577" stroke="#9a7250" stroke-width="5.2" stroke-linecap="round"/>
<line x1="396" y1="548" x2="409" y2="577" stroke="#9a7250" stroke-width="5.2" stroke-linecap="round"/>
<line x1="367" y1="548" x2="367" y2="578" stroke="#9a7250" stroke-width="5.2" stroke-linecap="round"/>
<line x1="329" y1="574" x2="407" y2="574" stroke="#8e6848" stroke-width="4"/>
<path d="M308.9,522 C308.5,514 310,509.5 314,508.5 L344,505.5 C350,503 354,499 358,495 C364,488 370,483 376,480 C384,476 390,475 396,474.5 L415.6,473.3 C419,474 421,477 421.2,481 L421.2,497.8 C421,504 419,508 415.6,511.5 C414,517 413.5,522 413,526 C412,533 410.5,538 409,541 C406,545 401,547.5 395.6,548 L322,545 C315,542 311,539 310,535.6 Z" fill="#f2efe9"/>
<path d="M373,518 C388,516 402,515 414,513 C413.5,522 412.5,530 411,538 C409,543 403,547 395.6,548 L374,546 C378,537 377,527 373,518 Z" fill="#d2cec9"/>
<path d="M153,482 L222,482 L221,578 L198,578 L190,522 L184,578 L160,578 C157,545 155,512 153,482 Z" fill="#2a2636"/>
<path d="M186,500 L190,522 L196,578 L199,578 L193,520 Z" fill="#1c1a26"/>
<path d="M176,351 L204,337 C214,341 226,349 233,361 C237,375 239,398 239,420 L238,455 L237,484 L200,488 L154,487 C152,470 152,450 153,432 L147,425 L139,419 L143,406 L154,401 C157,386 161,371 167,359 Z" fill="#302c3f"/>
<path d="M205,338 C214,342 224,349 230,358 C234,372 236,395 236,420 L234,470 L226,472 C229,440 230,400 226,372 C222,360 214,350 205,345 Z" fill="#37344a"/>
<path d="M226,470 L237,468 L238,484 L228,486 Z" fill="#211e2c"/>
<path d="M152,432 L160,440 L158,487 L154,487 C152,470 152,450 152,432 Z" fill="#1f1c2a"/>
<path d="M180,351 L203,336 L205,341 L188,355 L169,405 L165,403 L173,372 Z" fill="#ebe6ee"/>
<path d="M181.5,352 L187.5,351 L187,359 L163.5,456 L157.5,456 L178,361 Z" fill="#c4295f"/>
<path d="M121,390 C124,385 130,383 136,384 L146,396 L148,410 L143,416 C134,413 125,404 121,394 Z" fill="#c88674"/>
<rect x="128" y="383" width="11" height="17" rx="2" fill="#1e1e22" transform="rotate(-30 133.5 391.5)"/>
<rect x="131" y="388" width="7" height="9" fill="#d6c035" transform="rotate(-30 134.5 392.5)"/>
<path d="M139,414 L146,410 L149,421 L142,424 Z" fill="#e9e6ec"/>
<path d="M199,468 L210,467 L212,477 L200,478 Z" fill="#27243a"/>
<path d="M167,318 C167,310 169,305 175,304 L190,303 C198,304 203,310 204,318 L207,322 L206,330 L201,334 C198,339 195,342 191,344 L184,346 C178,345 174,342 172,338 C169,333 167,326 167,318 Z" fill="#c27462"/>
<path d="M167,312 C167,302 176,296.5 188,296.5 C199,296.5 206,302 207,310 L208,326 L204,329 L203,318 C200,311 194,306 186,306 L172,307 C169,308 167,310 167,314 Z" fill="#57402f"/>
<path d="M203,318 L208,320 L208,328 L203,330 Z" fill="#b06a58"/>
<path d="M190,341 L204,334 L206,340 L191,350 Z" fill="#e8e3ea"/>
<circle cx="189" cy="339.5" r="1.4" fill="#e2c8a0"/>
<path d="M171,318 L178,317.5 M182,317 L189,316.5" stroke="#6a3a30" stroke-width="1.2"/>
<ellipse cx="178" cy="334" rx="3.5" ry="1.3" fill="#8a4a42"/>
<path d="M206,322 L208,322 L208,331 L206,333 Z" fill="#4a3428"/>
<ellipse cx="245" cy="580" rx="26" ry="12" fill="#1c1528"/>
</g>
<rect x="477" y="140" width="780.5" height="439" fill="#fdfdfd"/>
<text x="513.0" y="201.0" font-size="32" fill="#1a1a1a" textLength="315" lengthAdjust="spacingAndGlyphs" stroke="#fdfdfd" stroke-width="0.55">Policy rates: Up we go</text>
<text x="511.0" y="243.3" font-size="8" fill="#111" font-weight="bold" textLength="147" lengthAdjust="spacingAndGlyphs">QE: CBs are tapering. Fed stopping now</text>
<text x="753.7" y="243.3" font-size="8" fill="#111" font-weight="bold" textLength="126.3" lengthAdjust="spacingAndGlyphs">US: Market pricing 2.5% next year</text>
<text x="997.6" y="240.0" font-size="6.6" fill="#111" font-weight="bold" textLength="220.5" lengthAdjust="spacingAndGlyphs">EMU: ECB is now leaving the door open for hike this year, and markets are pricing</text>
<text x="997.6" y="245.7" font-size="6.6" fill="#111" font-weight="bold">it</text>
<line x1="506.5" y1="249.3" x2="741.0" y2="249.3" stroke="#d6d6d6" stroke-width="0.8"/>
<line x1="749.3" y1="249.3" x2="985.0" y2="249.3" stroke="#d6d6d6" stroke-width="0.8"/>
<line x1="991.7" y1="249.3" x2="1225.8" y2="249.3" stroke="#d6d6d6" stroke-width="0.8"/>
<text x="511.2" y="396.0" font-size="8" fill="#111" font-weight="bold" textLength="162.7" lengthAdjust="spacingAndGlyphs">UK: BoE hiking, but communication is softer</text>
<text x="754.0" y="395.2" font-size="6.6" fill="#111" font-weight="bold" textLength="215" lengthAdjust="spacingAndGlyphs">SWE: Riksbank path at zero until 2024, but markets now expect lift-off this year</text>
<text x="996.8" y="392.4" font-size="6.6" fill="#111" font-weight="bold" textLength="219" lengthAdjust="spacingAndGlyphs">NOR: Norges Bank is normalising rates. One step each quarter, but markets still</text>
<text x="997.8" y="398.4" font-size="6.6" fill="#111" font-weight="bold">price more</text>
<line x1="506.7" y1="401.6" x2="741.0" y2="401.6" stroke="#d6d6d6" stroke-width="0.8"/>
<line x1="749.4" y1="401.6" x2="985.0" y2="401.6" stroke="#d6d6d6" stroke-width="0.8"/>
<line x1="992.0" y1="401.6" x2="1226.7" y2="401.6" stroke="#d6d6d6" stroke-width="0.8"/>
<line x1="486.0" y1="533.0" x2="1246.0" y2="533.0" stroke="#efd6c8" stroke-width="1.5"/>
<text x="1217.0" y="561.0" font-size="8" fill="#777" text-anchor="middle">21</text>
<text x="583.5" y="261.0" font-size="6" fill="#5a4e4e" textLength="71" lengthAdjust="spacingAndGlyphs">Central bank balance sheets</text>
<text x="596.0" y="272.0" font-size="5" fill="#555">USD, trillion</text>
<line x1="591.5" y1="268.0" x2="736.0" y2="268.0" stroke="#cfcfcf" stroke-width="0.6" stroke-dasharray="1,1.3"/>
<line x1="591.5" y1="279.4" x2="736.0" y2="279.4" stroke="#cfcfcf" stroke-width="0.6" stroke-dasharray="1,1.3"/>
<line x1="591.5" y1="290.8" x2="736.0" y2="290.8" stroke="#cfcfcf" stroke-width="0.6" stroke-dasharray="1,1.3"/>
<line x1="591.5" y1="302.2" x2="736.0" y2="302.2" stroke="#cfcfcf" stroke-width="0.6" stroke-dasharray="1,1.3"/>
<line x1="591.5" y1="313.5" x2="736.0" y2="313.5" stroke="#cfcfcf" stroke-width="0.6" stroke-dasharray="1,1.3"/>
<line x1="591.5" y1="324.9" x2="736.0" y2="324.9" stroke="#cfcfcf" stroke-width="0.6" stroke-dasharray="1,1.3"/>
<line x1="591.5" y1="336.3" x2="736.0" y2="336.3" stroke="#cfcfcf" stroke-width="0.6" stroke-dasharray="1,1.3"/>
<line x1="591.5" y1="347.7" x2="736.0" y2="347.7" stroke="#cfcfcf" stroke-width="0.6" stroke-dasharray="1,1.3"/>
<text x="590.0" y="270.1" font-size="6" fill="#4a4a4a" text-anchor="end">10</text>
<text x="738.5" y="270.1" font-size="6" fill="#4a4a4a">10</text>
<text x="590.0" y="281.5" font-size="6" fill="#4a4a4a" text-anchor="end">9</text>
<text x="738.5" y="281.5" font-size="6" fill="#4a4a4a">9</text>
<text x="590.0" y="292.9" font-size="6" fill="#4a4a4a" text-anchor="end">8</text>
<text x="738.5" y="292.9" font-size="6" fill="#4a4a4a">8</text>
<text x="590.0" y="304.3" font-size="6" fill="#4a4a4a" text-anchor="end">7</text>
<text x="738.5" y="304.3" font-size="6" fill="#4a4a4a">7</text>
<text x="590.0" y="315.6" font-size="6" fill="#4a4a4a" text-anchor="end">6</text>
<text x="738.5" y="315.6" font-size="6" fill="#4a4a4a">6</text>
<text x="590.0" y="327.0" font-size="6" fill="#4a4a4a" text-anchor="end">5</text>
<text x="738.5" y="327.0" font-size="6" fill="#4a4a4a">5</text>
<text x="590.0" y="338.4" font-size="6" fill="#4a4a4a" text-anchor="end">4</text>
<text x="738.5" y="338.4" font-size="6" fill="#4a4a4a">4</text>
<text x="590.0" y="349.8" font-size="6" fill="#4a4a4a" text-anchor="end">3</text>
<text x="738.5" y="349.8" font-size="6" fill="#4a4a4a">3</text>
<text x="594.7" y="359.0" font-size="6" fill="#4a4a4a" text-anchor="middle">J</text>
<line x1="594.7" y1="352.5" x2="594.7" y2="353.8" stroke="#999" stroke-width="0.5"/>
<text x="605.3" y="359.0" font-size="6" fill="#4a4a4a" text-anchor="middle">A</text>
<line x1="605.3" y1="352.5" x2="605.3" y2="353.8" stroke="#999" stroke-width="0.5"/>
<text x="615.9" y="359.0" font-size="6" fill="#4a4a4a" text-anchor="middle">J</text>
<line x1="615.9" y1="352.5" x2="615.9" y2="353.8" stroke="#999" stroke-width="0.5"/>
<text x="626.5" y="359.0" font-size="6" fill="#4a4a4a" text-anchor="middle">O</text>
<line x1="626.5" y1="352.5" x2="626.5" y2="353.8" stroke="#999" stroke-width="0.5"/>
<text x="637.1" y="359.0" font-size="6" fill="#4a4a4a" text-anchor="middle">J</text>
<line x1="637.1" y1="352.5" x2="637.1" y2="353.8" stroke="#999" stroke-width="0.5"/>
<text x="647.7" y="359.0" font-size="6" fill="#4a4a4a" text-anchor="middle">A</text>
<line x1="647.7" y1="352.5" x2="647.7" y2="353.8" stroke="#999" stroke-width="0.5"/>
<text x="658.3" y="359.0" font-size="6" fill="#4a4a4a" text-anchor="middle">J</text>
<line x1="658.3" y1="352.5" x2="658.3" y2="353.8" stroke="#999" stroke-width="0.5"/>
<text x="668.9" y="359.0" font-size="6" fill="#4a4a4a" text-anchor="middle">O</text>
<line x1="668.9" y1="352.5" x2="668.9" y2="353.8" stroke="#999" stroke-width="0.5"/>
<text x="679.5" y="359.0" font-size="6" fill="#4a4a4a" text-anchor="middle">J</text>
<line x1="679.5" y1="352.5" x2="679.5" y2="353.8" stroke="#999" stroke-width="0.5"/>
<text x="690.1" y="359.0" font-size="6" fill="#4a4a4a" text-anchor="middle">A</text>
<line x1="690.1" y1="352.5" x2="690.1" y2="353.8" stroke="#999" stroke-width="0.5"/>
<text x="700.7" y="359.0" font-size="6" fill="#4a4a4a" text-anchor="middle">J</text>
<line x1="700.7" y1="352.5" x2="700.7" y2="353.8" stroke="#999" stroke-width="0.5"/>
<text x="711.3" y="359.0" font-size="6" fill="#4a4a4a" text-anchor="middle">O</text>
<line x1="711.3" y1="352.5" x2="711.3" y2="353.8" stroke="#999" stroke-width="0.5"/>
<text x="721.9" y="359.0" font-size="6" fill="#4a4a4a" text-anchor="middle">J</text>
<line x1="721.9" y1="352.5" x2="721.9" y2="353.8" stroke="#999" stroke-width="0.5"/>
<text x="732.5" y="359.0" font-size="6" fill="#4a4a4a" text-anchor="middle">A</text>
<line x1="732.5" y1="352.5" x2="732.5" y2="353.8" stroke="#999" stroke-width="0.5"/>
<text x="615.2" y="367.0" font-size="6" fill="#4a4a4a" text-anchor="middle">19</text>
<text x="658.3" y="367.0" font-size="6" fill="#4a4a4a" text-anchor="middle">20</text>
<text x="700.9" y="367.0" font-size="6" fill="#4a4a4a" text-anchor="middle">21</text>
<text x="728.9" y="367.0" font-size="6" fill="#4a4a4a" text-anchor="middle">22</text>
<text x="745.0" y="374.0" font-size="3.6" fill="#555" text-anchor="end">Source: Swedbank &amp; Macrobond</text>
<polyline points="594.7,324.1 597.6,324.2 600.5,324.3 603.4,325.1 606.2,324.6 609.1,323.1 612.0,323.0 614.8,322.7 617.7,322.1 620.6,321.9 623.5,321.3 626.3,321.9 629.2,321.9 632.1,321.4 634.9,322.1 637.8,322.3 640.0,321.9 642.1,322.2 644.3,323.0 645.0,321.1 645.7,319.8 646.4,317.6 647.9,316.7 649.3,316.5 650.7,316.5 652.2,316.0 653.6,315.7 655.0,314.4 656.5,313.8 657.9,312.8 659.3,312.2 660.8,312.4 662.2,310.6 663.7,310.7 665.1,310.3 666.5,308.5 668.0,307.9 669.4,307.0 670.8,306.6 672.3,306.8 674.4,305.7 676.6,305.5 678.7,304.2 680.9,304.3 683.0,305.4 685.2,305.7 686.6,306.7 688.1,307.0 689.5,307.9 690.9,307.5 692.4,306.3 693.8,306.4 695.2,306.1 696.7,306.6 698.1,307.3 701.0,307.4 703.8,306.9 706.7,306.8 708.9,306.9 711.0,307.7 713.2,307.9 713.9,308.4 714.6,308.8 715.3,309.6 717.5,310.0 719.6,309.8 721.8,309.4 723.2,309.5 724.7,310.4 726.1,310.7 727.9,310.4 729.7,310.5 731.5,309.6" fill="none" stroke="#3fa3a8" stroke-width="1.1"/>
<polyline points="594.7,320.8 597.6,321.4 600.5,321.0 603.4,321.5 606.2,322.4 609.1,321.5 612.0,322.3 614.8,322.4 617.7,323.1 620.6,323.0 623.5,322.7 626.3,323.4 629.2,323.6 632.1,322.8 634.9,323.4 637.8,323.0 640.1,323.6 642.4,323.5 644.7,323.6 645.3,323.2 645.9,321.5 646.4,320.8 647.9,319.3 649.3,317.4 650.7,315.4 652.2,314.1 653.6,312.5 655.0,311.1 655.6,310.5 656.2,309.6 656.8,307.9 657.0,306.4 657.3,305.3 657.6,303.6 658.6,301.9 659.5,301.7 660.4,300.4 661.5,298.4 662.6,296.7 663.7,293.9 665.1,293.6 666.5,292.2 668.0,291.8 669.4,290.9 670.8,290.6 672.3,289.6 673.7,288.2 675.1,288.1 676.6,287.4 678.0,286.3 679.4,285.5 680.9,285.3 682.3,284.3 683.7,285.0 685.2,284.2 686.6,283.3 688.1,283.1 689.5,283.1 690.9,281.9 692.4,281.5 693.8,279.9 695.2,278.2 696.7,277.7 698.1,276.7 699.5,276.2 701.0,276.1 702.4,275.0 703.8,274.9 705.3,274.5 706.7,273.4 708.2,272.8 709.6,272.6 711.0,272.4 712.5,271.8 713.9,272.2 715.3,271.3 716.8,272.2 718.2,271.2 719.6,271.9 721.1,270.9 722.5,270.4 723.9,270.2 725.0,269.5 726.1,269.5 727.2,269.1 727.9,269.8 728.6,269.8 729.3,270.7 730.0,270.9 730.8,272.4 731.5,273.4" fill="none" stroke="#ecc53a" stroke-width="1.1"/>
<polyline points="594.7,335.2 607.7,337.0 622.7,338.7 629.2,335.9 637.8,334.4 644.7,334.4 646.4,328.4 648.6,311.1 651.8,302.5 655.0,300.8 658.3,302.5 663.7,301.4 672.3,299.3 683.0,296.1 693.8,292.8 704.6,288.5 715.3,285.3 726.1,282.1 731.5,280.6" fill="none" stroke="#e2773f" stroke-width="1.1"/>
<text x="679.8" y="271.0" font-size="6" fill="#e9c23a">Eurozone</text>
<text x="713.0" y="327.0" font-size="6" fill="#3fa3a8">Japan</text>
<text x="698.7" y="338.5" font-size="6" fill="#e2773f">US</text>
<rect x="738.3" y="270.09999999999997" width="25" height="7.2" fill="#fff" stroke="#c8c8c8" stroke-width="0.5"/>
<path d="M738.3,272.2 L735.5,273.7 L738.3,275.2" fill="#fff" stroke="#c8c8c8" stroke-width="0.4"/>
<text x="739.5" y="275.6" font-size="5.2" fill="#e9c23a" textLength="22.5" lengthAdjust="spacingAndGlyphs">9.45 trillion</text>
<rect x="738.3" y="277.2" width="25" height="7.2" fill="#fff" stroke="#c8c8c8" stroke-width="0.5"/>
<path d="M738.3,279.3 L735.5,280.8 L738.3,282.3" fill="#fff" stroke="#c8c8c8" stroke-width="0.4"/>
<text x="739.5" y="282.7" font-size="5.2" fill="#e2773f" textLength="22.5" lengthAdjust="spacingAndGlyphs">8.95 trillion</text>
<rect x="738.3" y="306.0" width="25" height="7.2" fill="#fff" stroke="#c8c8c8" stroke-width="0.5"/>
<path d="M738.3,308.1 L735.5,309.6 L738.3,311.1" fill="#fff" stroke="#c8c8c8" stroke-width="0.4"/>
<text x="739.5" y="311.5" font-size="5.2" fill="#3fa3a8" textLength="22.5" lengthAdjust="spacingAndGlyphs">6.38 trillion</text>
<text x="776.2" y="261.0" font-size="6" fill="#5a4e4e" textLength="110" lengthAdjust="spacingAndGlyphs">US: Fed Funds rate vs. Market expectations</text>
<line x1="789.0" y1="268.0" x2="946.5" y2="268.0" stroke="#cfcfcf" stroke-width="0.6" stroke-dasharray="1,1.3"/>
<line x1="789.0" y1="282.5" x2="946.5" y2="282.5" stroke="#cfcfcf" stroke-width="0.6" stroke-dasharray="1,1.3"/>
<line x1="789.0" y1="297.0" x2="946.5" y2="297.0" stroke="#cfcfcf" stroke-width="0.6" stroke-dasharray="1,1.3"/>
<line x1="789.0" y1="311.5" x2="946.5" y2="311.5" stroke="#cfcfcf" stroke-width="0.6" stroke-dasharray="1,1.3"/>
<line x1="789.0" y1="326.0" x2="946.5" y2="326.0" stroke="#cfcfcf" stroke-width="0.6" stroke-dasharray="1,1.3"/>
<line x1="789.0" y1="340.5" x2="946.5" y2="340.5" stroke="#cfcfcf" stroke-width="0.6" stroke-dasharray="1,1.3"/>
<line x1="789.0" y1="355.0" x2="946.5" y2="355.0" stroke="#cfcfcf" stroke-width="0.6" stroke-dasharray="1,1.3"/>
<text x="788.0" y="270.1" font-size="6" fill="#4a4a4a" text-anchor="end">2.5</text>
<text x="948.5" y="270.1" font-size="6" fill="#4a4a4a">2.5</text>
<text x="788.0" y="284.6" font-size="6" fill="#4a4a4a" text-anchor="end">2.0</text>
<text x="948.5" y="284.6" font-size="6" fill="#4a4a4a">2.0</text>
<text x="788.0" y="299.1" font-size="6" fill="#4a4a4a" text-anchor="end">1.5</text>
<text x="948.5" y="299.1" font-size="6" fill="#4a4a4a">1.5</text>
<text x="788.0" y="313.6" font-size="6" fill="#4a4a4a" text-anchor="end">1.0</text>
<text x="948.5" y="313.6" font-size="6" fill="#4a4a4a">1.0</text>
<text x="788.0" y="328.1" font-size="6" fill="#4a4a4a" text-anchor="end">0.5</text>
<text x="948.5" y="328.1" font-size="6" fill="#4a4a4a">0.5</text>
<text x="788.0" y="342.6" font-size="6" fill="#4a4a4a" text-anchor="end">0.0</text>
<text x="948.5" y="342.6" font-size="6" fill="#4a4a4a">0.0</text>
<text x="788.0" y="357.1" font-size="6" fill="#4a4a4a" text-anchor="end">-0.5</text>
<text x="948.5" y="357.1" font-size="6" fill="#4a4a4a">-0.5</text>
<text x="796.3" y="366.5" font-size="6" fill="#4a4a4a" text-anchor="middle">13</text>
<line x1="790.4" y1="358.5" x2="790.4" y2="359.8" stroke="#999" stroke-width="0.5"/>
<text x="808.0" y="366.5" font-size="6" fill="#4a4a4a" text-anchor="middle">14</text>
<line x1="802.1" y1="358.5" x2="802.1" y2="359.8" stroke="#999" stroke-width="0.5"/>
<text x="819.7" y="366.5" font-size="6" fill="#4a4a4a" text-anchor="middle">15</text>
<line x1="813.8" y1="358.5" x2="813.8" y2="359.8" stroke="#999" stroke-width="0.5"/>
<text x="831.4" y="366.5" font-size="6" fill="#4a4a4a" text-anchor="middle">16</text>
<line x1="825.5" y1="358.5" x2="825.5" y2="359.8" stroke="#999" stroke-width="0.5"/>
<text x="843.1" y="366.5" font-size="6" fill="#4a4a4a" text-anchor="middle">17</text>
<line x1="837.2" y1="358.5" x2="837.2" y2="359.8" stroke="#999" stroke-width="0.5"/>
<text x="854.8" y="366.5" font-size="6" fill="#4a4a4a" text-anchor="middle">18</text>
<line x1="848.9" y1="358.5" x2="848.9" y2="359.8" stroke="#999" stroke-width="0.5"/>
<text x="866.5" y="366.5" font-size="6" fill="#4a4a4a" text-anchor="middle">19</text>
<line x1="860.6" y1="358.5" x2="860.6" y2="359.8" stroke="#999" stroke-width="0.5"/>
<text x="878.2" y="366.5" font-size="6" fill="#4a4a4a" text-anchor="middle">20</text>
<line x1="872.3" y1="358.5" x2="872.3" y2="359.8" stroke="#999" stroke-width="0.5"/>
<text x="889.9" y="366.5" font-size="6" fill="#4a4a4a" text-anchor="middle">21</text>
<line x1="884.0" y1="358.5" x2="884.0" y2="359.8" stroke="#999" stroke-width="0.5"/>
<text x="901.6" y="366.5" font-size="6" fill="#4a4a4a" text-anchor="middle">22</text>
<line x1="895.7" y1="358.5" x2="895.7" y2="359.8" stroke="#999" stroke-width="0.5"/>
<text x="913.3" y="366.5" font-size="6" fill="#4a4a4a" text-anchor="middle">23</text>
<line x1="907.4" y1="358.5" x2="907.4" y2="359.8" stroke="#999" stroke-width="0.5"/>
<text x="925.0" y="366.5" font-size="6" fill="#4a4a4a" text-anchor="middle">24</text>
<line x1="919.1" y1="358.5" x2="919.1" y2="359.8" stroke="#999" stroke-width="0.5"/>
<text x="936.7" y="366.5" font-size="6" fill="#4a4a4a" text-anchor="middle">25</text>
<line x1="930.8" y1="358.5" x2="930.8" y2="359.8" stroke="#999" stroke-width="0.5"/>
<text x="850.5" y="374.0" font-size="3.6" fill="#555" textLength="106.5" lengthAdjust="spacingAndGlyphs">Sources: Federal Reserve, Chicago Board of Trade, Swedbank &amp; Macrobond</text>
<polyline points="789.2,340.5 825.1,340.5 825.1,333.2 836.5,333.2 836.5,326.0 839.8,326.0 839.8,318.8 843.0,318.8 843.0,311.5 848.4,311.5 848.4,304.2 851.6,304.2 851.6,297.0 854.8,297.0 854.8,289.8 857.0,289.8 857.0,282.5 860.2,282.5 860.2,275.2 867.8,275.2 867.8,282.5 869.5,282.5 869.5,297.0 874.2,297.0 874.2,340.5 899.0,340.5 899.0,333.2" fill="none" stroke="#e2803f" stroke-width="1.3"/>
<polyline points="899.0,332.7 904.4,311.2 908.7,283.2 911.9,273.5 917.3,267.0 922.7,265.9 928.1,264.8 930.7,265.5 932.4,275.6 935.6,278.8 944.2,278.8" fill="none" stroke="#f0cf45" stroke-width="1.1" stroke-dasharray="2,1.5"/>
<text x="877.5" y="273.5" font-size="5.2" fill="#333" textLength="43.7" lengthAdjust="spacingAndGlyphs">Market expectations</text>
<line x1="895.0" y1="276.0" x2="907.0" y2="283.0" stroke="#333" stroke-width="0.5"/>
<text x="804.0" y="294.5" font-size="7" fill="#e8874a" textLength="39" lengthAdjust="spacingAndGlyphs">Fed funds rate</text>
<text x="969.2" y="261.5" font-size="6" fill="#5a4e4e" textLength="117" lengthAdjust="spacingAndGlyphs">EMU: ECB policy rates vs. market expectations</text>
<line x1="985.0" y1="268.9" x2="1136.0" y2="268.9" stroke="#cfcfcf" stroke-width="0.6" stroke-dasharray="1,1.3"/>
<line x1="985.0" y1="283.2" x2="1136.0" y2="283.2" stroke="#cfcfcf" stroke-width="0.6" stroke-dasharray="1,1.3"/>
<line x1="985.0" y1="297.5" x2="1136.0" y2="297.5" stroke="#cfcfcf" stroke-width="0.6" stroke-dasharray="1,1.3"/>
<line x1="985.0" y1="311.8" x2="1136.0" y2="311.8" stroke="#cfcfcf" stroke-width="0.6" stroke-dasharray="1,1.3"/>
<line x1="985.0" y1="326.1" x2="1136.0" y2="326.1" stroke="#cfcfcf" stroke-width="0.6" stroke-dasharray="1,1.3"/>
<line x1="985.0" y1="340.4" x2="1136.0" y2="340.4" stroke="#cfcfcf" stroke-width="0.6" stroke-dasharray="1,1.3"/>
<line x1="985.0" y1="354.7" x2="1136.0" y2="354.7" stroke="#cfcfcf" stroke-width="0.6" stroke-dasharray="1,1.3"/>
<text x="983.0" y="271.0" font-size="6" fill="#4a4a4a" text-anchor="end">0.75</text>
<text x="1138.0" y="271.0" font-size="6" fill="#4a4a4a">0.75</text>
<text x="983.0" y="285.3" font-size="6" fill="#4a4a4a" text-anchor="end">0.50</text>
<text x="1138.0" y="285.3" font-size="6" fill="#4a4a4a">0.50</text>
<text x="983.0" y="299.6" font-size="6" fill="#4a4a4a" text-anchor="end">0.25</text>
<text x="1138.0" y="299.6" font-size="6" fill="#4a4a4a">0.25</text>
<text x="983.0" y="313.9" font-size="6" fill="#4a4a4a" text-anchor="end">0.00</text>
<text x="1138.0" y="313.9" font-size="6" fill="#4a4a4a">0.00</text>
<text x="983.0" y="328.2" font-size="6" fill="#4a4a4a" text-anchor="end">-0.25</text>
<text x="1138.0" y="328.2" font-size="6" fill="#4a4a4a">-0.25</text>
<text x="983.0" y="342.5" font-size="6" fill="#4a4a4a" text-anchor="end">-0.50</text>
<text x="1138.0" y="342.5" font-size="6" fill="#4a4a4a">-0.50</text>
<text x="983.0" y="356.8" font-size="6" fill="#4a4a4a" text-anchor="end">-0.75</text>
<text x="1138.0" y="356.8" font-size="6" fill="#4a4a4a">-0.75</text>
<text x="999.0" y="366.5" font-size="6" fill="#4a4a4a" text-anchor="middle">14</text>
<line x1="999.0" y1="358.0" x2="999.0" y2="359.5" stroke="#999" stroke-width="0.5"/>
<text x="1023.9" y="366.5" font-size="6" fill="#4a4a4a" text-anchor="middle">16</text>
<line x1="1023.9" y1="358.0" x2="1023.9" y2="359.5" stroke="#999" stroke-width="0.5"/>
<text x="1048.7" y="366.5" font-size="6" fill="#4a4a4a" text-anchor="middle">18</text>
<line x1="1048.7" y1="358.0" x2="1048.7" y2="359.5" stroke="#999" stroke-width="0.5"/>
<text x="1073.6" y="366.5" font-size="6" fill="#4a4a4a" text-anchor="middle">20</text>
<line x1="1073.6" y1="358.0" x2="1073.6" y2="359.5" stroke="#999" stroke-width="0.5"/>
<text x="1098.4" y="366.5" font-size="6" fill="#4a4a4a" text-anchor="middle">22</text>
<line x1="1098.4" y1="358.0" x2="1098.4" y2="359.5" stroke="#999" stroke-width="0.5"/>
<text x="1123.3" y="366.5" font-size="6" fill="#4a4a4a" text-anchor="middle">24</text>
<line x1="1123.3" y1="358.0" x2="1123.3" y2="359.5" stroke="#999" stroke-width="0.5"/>
<text x="1150.0" y="374.0" font-size="3.6" fill="#555" text-anchor="end">Source: Swedbank &amp; Macrobond</text>
<polyline points="985.0,268.9 990.6,268.9 990.6,283.2 997.2,283.2 997.2,297.5 1001.0,297.5 1001.0,303.2 1004.8,303.2 1004.8,308.9 1025.6,308.9 1025.6,311.8 1102.2,311.8" fill="none" stroke="#5cc0bc" stroke-width="1.1"/>
<polyline points="985.0,311.8 1004.8,311.8 1004.8,317.5 1007.7,317.5 1007.7,323.2 1023.4,323.2 1023.4,329.0 1026.3,329.0 1026.3,334.7 1070.5,334.7 1070.5,340.4 1102.0,340.4" fill="none" stroke="#e07b40" stroke-width="1.3"/>
<polyline points="985.0,306.6 985.4,305.4 985.7,302.9 986.1,304.6 986.4,305.7 986.8,305.1 987.1,304.7 987.5,308.6 987.8,303.3 988.2,304.0 988.5,303.4 988.9,303.9 989.2,306.5 989.6,306.4 989.9,308.3 990.3,304.9 990.6,308.5 991.0,308.5 991.3,307.6 991.7,307.9 992.0,306.8 992.4,308.6 992.7,308.9 993.1,306.2 993.4,306.5 993.8,303.5 994.1,306.7 994.5,297.8 994.8,300.2 995.2,304.7 995.5,303.4 995.9,302.2 996.2,301.8 996.6,304.0 996.9,296.3 997.3,294.5 997.6,299.7 998.0,299.3 998.3,303.1 998.7,302.7 999.0,300.0 999.4,300.5 999.7,294.5 1000.1,301.1 1000.4,302.3 1000.8,292.5 1001.1,287.8 1001.5,287.8 1001.8,272.9 1002.2,272.9 1002.5,287.8 1002.9,287.8 1003.2,289.1 1003.6,295.3 1003.9,290.8 1004.3,298.8 1004.6,292.8 1005.0,287.6 1005.3,290.1 1005.7,293.4 1006.0,300.3 1006.4,299.8 1006.7,303.5 1007.1,296.1 1007.4,300.3 1007.8,297.9 1008.1,305.0 1008.5,307.4 1008.8,300.3 1009.2,298.8 1009.5,301.6 1009.9,303.2 1010.2,306.9 1010.6,307.8 1010.9,311.6 1011.3,309.9 1011.6,311.3 1012.0,313.9 1012.3,314.2 1012.7,312.8 1013.0,313.2 1013.4,310.6 1013.7,309.1 1014.1,312.9 1014.4,309.8 1014.8,309.8 1015.1,310.3 1015.5,314.7 1015.8,316.0 1016.2,316.2 1016.5,316.7 1016.9,317.0 1017.2,314.4 1017.6,312.8 1017.9,313.6 1018.3,316.3 1018.6,315.5 1019.0,314.8 1019.3,320.0 1019.7,316.3 1020.0,314.9 1020.4,316.1 1020.7,316.6 1021.1,318.8 1021.4,321.2 1021.8,317.3 1022.1,320.7 1022.5,317.8 1022.8,317.0 1023.2,323.8 1023.5,324.3 1023.9,322.9 1024.2,324.2 1024.6,326.6 1024.9,327.2 1025.3,327.7 1025.6,325.6 1026.0,326.4 1026.3,329.2 1026.7,327.3 1027.0,327.3 1027.4,328.9 1027.7,330.5 1028.1,330.3 1028.4,332.2 1028.8,333.1 1029.1,330.8 1029.5,331.4 1029.8,331.6 1030.2,330.9 1030.8,331.8 1031.4,331.0 1032.0,331.1 1032.6,332.1 1033.2,332.1 1033.8,332.0 1034.4,332.1 1035.0,331.5 1035.6,332.1 1036.2,331.8 1036.8,332.3 1037.3,330.9 1037.9,331.9 1038.5,331.7 1039.1,331.5 1039.7,331.0 1040.3,331.8 1040.9,330.9 1041.5,331.6 1042.1,331.6 1042.7,331.6 1043.3,332.5 1043.9,331.8 1044.5,332.2 1045.1,332.5 1045.7,331.1 1046.3,332.2 1046.9,331.7 1047.5,331.3 1048.1,331.6 1048.7,331.9 1049.3,331.6 1049.9,331.6 1050.5,331.2 1051.1,332.3 1051.7,331.5 1052.3,332.1 1052.9,332.0 1053.5,331.2 1054.1,331.6 1054.7,331.5 1055.3,331.2 1055.9,330.9 1056.5,331.7 1057.1,331.5 1057.7,331.6 1058.3,331.6 1058.9,331.3 1059.5,331.7 1060.1,331.6 1060.7,331.7 1061.3,330.9 1061.9,331.3 1062.5,331.0 1063.1,330.9 1063.7,332.1 1064.3,331.5 1064.9,330.9 1065.5,331.1 1066.1,332.3 1066.7,332.3 1067.3,331.7 1067.9,332.4 1068.5,332.1 1069.1,332.4 1069.7,331.4 1070.3,337.4 1070.9,337.3 1071.5,337.9 1072.1,337.5 1072.7,337.6 1073.3,338.0 1073.9,337.5 1074.5,337.5 1075.1,338.0 1075.7,337.5 1076.3,338.0 1076.9,337.9 1077.5,337.6 1078.1,337.7 1078.7,338.2 1079.3,338.1 1079.9,338.1 1080.5,338.2 1081.1,338.3 1081.7,338.3 1082.3,338.0 1082.9,338.6 1083.5,338.2 1084.1,338.3 1084.7,338.7 1085.3,338.5 1085.9,338.3 1086.5,338.4 1087.1,338.8 1087.7,338.2 1088.3,338.3 1088.9,338.2 1089.5,338.9 1090.1,338.8 1090.7,339.0 1091.3,338.5 1091.9,338.9 1092.5,339.0 1093.1,338.8 1093.7,338.5 1094.3,338.6 1094.9,339.0 1095.5,339.2 1096.1,338.7 1096.7,338.9 1097.3,338.9 1097.9,339.3 1098.5,339.4 1099.1,339.0 1099.7,339.2 1100.3,339.5 1100.9,338.9 1101.5,339.1" fill="none" stroke="#ecc53a" stroke-width="0.9"/>
<line x1="1049.0" y1="331.8" x2="1049.0" y2="325.5" stroke="#ecc53a" stroke-width="0.9"/>
<line x1="1067.0" y1="333.0" x2="1067.0" y2="325.5" stroke="#ecc53a" stroke-width="0.9"/>
<polyline points="1102.2,340.9 1103.3,344.2 1111.0,325.6 1115.3,308.1 1120.8,283.0 1126.3,276.4" fill="none" stroke="#f0cf45" stroke-width="1.1" stroke-dasharray="2,1.5"/>
<text x="1027.8" y="289.0" font-size="6.5" fill="#6cc6c0">ECB Main</text>
<text x="1027.8" y="296.3" font-size="6.5" fill="#6cc6c0">refinancing operations</text>
<text x="1058.4" y="323.0" font-size="6.5" fill="#ecc53a">EONIA</text>
<text x="990.0" y="338.5" font-size="6.5" fill="#e8925a">ECB Deposit</text>
<text x="990.0" y="345.6" font-size="6.5" fill="#e8925a">facility rate</text>
<text x="582.7" y="413.0" font-size="6" fill="#5a4e4e" textLength="113" lengthAdjust="spacingAndGlyphs">UK: BoE policy rates vs. market expectations</text>
<line x1="595.6" y1="420.6" x2="752.0" y2="420.6" stroke="#cfcfcf" stroke-width="0.6" stroke-dasharray="1,1.3"/>
<line x1="595.6" y1="430.7" x2="752.0" y2="430.7" stroke="#cfcfcf" stroke-width="0.6" stroke-dasharray="1,1.3"/>
<line x1="595.6" y1="440.8" x2="752.0" y2="440.8" stroke="#cfcfcf" stroke-width="0.6" stroke-dasharray="1,1.3"/>
<line x1="595.6" y1="450.9" x2="752.0" y2="450.9" stroke="#cfcfcf" stroke-width="0.6" stroke-dasharray="1,1.3"/>
<line x1="595.6" y1="460.9" x2="752.0" y2="460.9" stroke="#cfcfcf" stroke-width="0.6" stroke-dasharray="1,1.3"/>
<line x1="595.6" y1="471.0" x2="752.0" y2="471.0" stroke="#cfcfcf" stroke-width="0.6" stroke-dasharray="1,1.3"/>
<line x1="595.6" y1="481.1" x2="752.0" y2="481.1" stroke="#cfcfcf" stroke-width="0.6" stroke-dasharray="1,1.3"/>
<line x1="595.6" y1="491.2" x2="752.0" y2="491.2" stroke="#cfcfcf" stroke-width="0.6" stroke-dasharray="1,1.3"/>
<line x1="595.6" y1="501.2" x2="752.0" y2="501.2" stroke="#cfcfcf" stroke-width="0.6" stroke-dasharray="1,1.3"/>
<line x1="595.6" y1="511.3" x2="752.0" y2="511.3" stroke="#cfcfcf" stroke-width="0.6" stroke-dasharray="1,1.3"/>
<text x="594.4" y="422.7" font-size="6" fill="#4a4a4a" text-anchor="end">2.25</text>
<text x="594.4" y="432.8" font-size="6" fill="#4a4a4a" text-anchor="end">2.00</text>
<text x="594.4" y="442.9" font-size="6" fill="#4a4a4a" text-anchor="end">1.75</text>
<text x="594.4" y="453.0" font-size="6" fill="#4a4a4a" text-anchor="end">1.50</text>
<text x="594.4" y="463.0" font-size="6" fill="#4a4a4a" text-anchor="end">1.25</text>
<text x="594.4" y="473.1" font-size="6" fill="#4a4a4a" text-anchor="end">1.00</text>
<text x="594.4" y="483.2" font-size="6" fill="#4a4a4a" text-anchor="end">0.75</text>
<text x="594.4" y="493.3" font-size="6" fill="#4a4a4a" text-anchor="end">0.50</text>
<text x="594.4" y="503.3" font-size="6" fill="#4a4a4a" text-anchor="end">0.25</text>
<text x="594.4" y="513.4" font-size="6" fill="#4a4a4a" text-anchor="end">0.00</text>
<text x="604.4" y="519.0" font-size="6" fill="#4a4a4a" text-anchor="middle">13</text>
<line x1="598.0" y1="512.5" x2="598.0" y2="514.0" stroke="#999" stroke-width="0.5"/>
<text x="617.1" y="519.0" font-size="6" fill="#4a4a4a" text-anchor="middle">14</text>
<line x1="610.8" y1="512.5" x2="610.8" y2="514.0" stroke="#999" stroke-width="0.5"/>
<text x="629.9" y="519.0" font-size="6" fill="#4a4a4a" text-anchor="middle">15</text>
<line x1="623.5" y1="512.5" x2="623.5" y2="514.0" stroke="#999" stroke-width="0.5"/>
<text x="642.6" y="519.0" font-size="6" fill="#4a4a4a" text-anchor="middle">16</text>
<line x1="636.2" y1="512.5" x2="636.2" y2="514.0" stroke="#999" stroke-width="0.5"/>
<text x="655.4" y="519.0" font-size="6" fill="#4a4a4a" text-anchor="middle">17</text>
<line x1="649.0" y1="512.5" x2="649.0" y2="514.0" stroke="#999" stroke-width="0.5"/>
<text x="668.1" y="519.0" font-size="6" fill="#4a4a4a" text-anchor="middle">18</text>
<line x1="661.8" y1="512.5" x2="661.8" y2="514.0" stroke="#999" stroke-width="0.5"/>
<text x="680.9" y="519.0" font-size="6" fill="#4a4a4a" text-anchor="middle">19</text>
<line x1="674.5" y1="512.5" x2="674.5" y2="514.0" stroke="#999" stroke-width="0.5"/>
<text x="693.6" y="519.0" font-size="6" fill="#4a4a4a" text-anchor="middle">20</text>
<line x1="687.2" y1="512.5" x2="687.2" y2="514.0" stroke="#999" stroke-width="0.5"/>
<text x="706.4" y="519.0" font-size="6" fill="#4a4a4a" text-anchor="middle">21</text>
<line x1="700.0" y1="512.5" x2="700.0" y2="514.0" stroke="#999" stroke-width="0.5"/>
<text x="719.1" y="519.0" font-size="6" fill="#4a4a4a" text-anchor="middle">22</text>
<line x1="712.8" y1="512.5" x2="712.8" y2="514.0" stroke="#999" stroke-width="0.5"/>
<text x="731.9" y="519.0" font-size="6" fill="#4a4a4a" text-anchor="middle">23</text>
<line x1="725.5" y1="512.5" x2="725.5" y2="514.0" stroke="#999" stroke-width="0.5"/>
<text x="744.6" y="519.0" font-size="6" fill="#4a4a4a" text-anchor="middle">24</text>
<line x1="738.2" y1="512.5" x2="738.2" y2="514.0" stroke="#999" stroke-width="0.5"/>
<text x="745.0" y="526.5" font-size="3.6" fill="#555" text-anchor="end">Source: Swedbank &amp; Macrobond</text>
<polyline points="597.8,493.5 598.4,496.1 599.1,493.3 599.8,496.1 600.4,493.3 601.1,494.7 601.8,495.2 602.4,494.4 603.1,493.0 603.8,495.4 604.4,495.9 605.1,494.5 605.8,495.5 606.4,496.0 607.1,495.8 607.8,496.2 608.4,495.7 609.1,495.3 609.8,495.3 610.4,493.6 611.1,495.3 611.8,494.6 612.4,495.7 613.1,495.1 613.8,496.3 614.4,495.5 615.1,496.3 615.8,493.7 616.4,494.4 617.1,495.7 617.8,494.7 618.4,493.0 619.1,496.0 619.8,493.4 620.4,494.8 621.1,494.6 621.8,493.4 622.4,495.0 623.1,494.6 623.8,493.9 624.4,492.8 625.1,495.1 625.8,493.4 626.4,493.8 627.1,494.1 627.8,494.9 628.4,495.1 629.1,496.2 629.8,495.9 630.4,496.1 631.1,493.7 631.8,495.5 632.4,495.8 633.1,496.1 633.8,493.3 634.4,493.2 635.1,494.0 635.8,495.4 636.4,495.5 637.1,495.3 637.8,494.7 638.4,495.8 639.1,494.8 639.8,495.4 640.4,492.9 641.1,492.9 641.8,494.4 642.4,495.5 643.1,492.9 643.8,495.3 644.4,503.5 645.1,504.0 645.8,503.4 646.4,503.3 647.1,503.2 647.8,503.7 648.4,503.2 649.1,504.0 649.8,503.6 650.4,503.9 651.1,503.4 651.8,504.0 652.4,504.0 653.1,503.6 653.8,503.7 654.4,503.1 655.1,503.2 655.8,502.8 656.4,503.0 657.1,502.9 657.8,502.6 658.4,503.4 659.1,503.5 659.8,502.5 660.4,493.7 661.1,492.8 661.8,492.9 662.4,493.9 663.1,492.6 663.8,492.5 664.4,493.0 665.1,492.8 665.8,492.7 666.4,493.7 667.1,493.1 667.8,493.2 668.4,492.6 669.1,492.7 669.8,492.6 670.4,493.0 671.1,482.5 671.8,482.8 672.4,482.8 673.1,483.5 673.8,483.8 674.4,483.7 675.1,483.3 675.8,483.7 676.4,482.5 677.1,483.0 677.8,482.9 678.4,482.9 679.1,482.8 679.8,483.1 680.4,483.9 681.1,482.6 681.8,482.7 682.4,483.1 683.1,483.0 683.8,482.8 684.4,483.8 685.1,482.7 685.8,483.5 686.4,483.8 687.1,483.5 687.8,482.7 688.4,483.6 689.1,482.7 689.8,482.3 690.4,483.1 691.1,509.4 691.8,509.3 692.4,509.1 693.1,509.1 693.8,509.2 694.4,509.2 695.1,509.6 695.8,509.6 696.4,509.5 697.1,509.1 697.8,509.4 698.4,509.2 699.1,509.7 699.8,509.6 700.4,509.5 701.1,509.1 701.8,509.1 702.4,509.1 703.1,509.5 703.8,509.3 704.4,509.3 705.1,509.3 705.8,509.6 706.4,509.0 707.1,509.5 707.8,508.9 708.4,508.9 709.1,509.7 709.8,509.3 710.4,509.0 711.1,508.9 711.8,509.3 712.4,509.5 713.1,509.5 713.8,508.9 714.4,503.2 715.1,498.6 715.8,493.9 716.4,489.3 717.1,484.6" fill="none" stroke="#ecc53a" stroke-width="1.1"/>
<polyline points="597.8,491.2 644.4,491.2 644.4,501.2 660.4,501.2 660.4,491.2 670.7,491.2 670.7,481.1 690.7,481.1 690.7,507.3 714.4,507.3 714.4,501.2 716.0,501.2 716.0,491.2 716.7,491.2 716.7,481.1" fill="none" stroke="#e2803f" stroke-width="1.3"/>
<polyline points="717.3,481.1 720.0,464.4 723.3,451.1 726.7,435.6 732.2,424.4 740.0,421.1 749.0,421.1" fill="none" stroke="#f0cf45" stroke-width="1.1" stroke-dasharray="2,1.5"/>
<text x="682.7" y="432.2" font-size="5.2" fill="#333">SONIA futures</text>
<line x1="714.0" y1="430.3" x2="725.0" y2="430.3" stroke="#333" stroke-width="0.5"/>
<circle cx="730" cy="430.6" r="2.8" fill="none" stroke="#444" stroke-width="0.5"/>
<text x="626.7" y="474.5" font-size="6.8" fill="#e8874a">UK bank rate</text>
<text x="608.9" y="509.2" font-size="6.8" fill="#ecc53a">SONIA O/N</text>
<text x="776.6" y="414.0" font-size="6" fill="#5a4e4e" textLength="95.5" lengthAdjust="spacingAndGlyphs">Riksbank: Policy rate path and market</text>
<line x1="792.8" y1="420.7" x2="943.0" y2="420.7" stroke="#cfcfcf" stroke-width="0.6" stroke-dasharray="1,1.3"/>
<line x1="792.8" y1="431.6" x2="943.0" y2="431.6" stroke="#cfcfcf" stroke-width="0.6" stroke-dasharray="1,1.3"/>
<line x1="792.8" y1="442.4" x2="943.0" y2="442.4" stroke="#cfcfcf" stroke-width="0.6" stroke-dasharray="1,1.3"/>
<line x1="792.8" y1="453.2" x2="943.0" y2="453.2" stroke="#cfcfcf" stroke-width="0.6" stroke-dasharray="1,1.3"/>
<line x1="792.8" y1="464.1" x2="943.0" y2="464.1" stroke="#cfcfcf" stroke-width="0.6" stroke-dasharray="1,1.3"/>
<line x1="792.8" y1="474.9" x2="943.0" y2="474.9" stroke="#cfcfcf" stroke-width="0.6" stroke-dasharray="1,1.3"/>
<line x1="792.8" y1="485.8" x2="943.0" y2="485.8" stroke="#cfcfcf" stroke-width="0.6" stroke-dasharray="1,1.3"/>
<line x1="792.8" y1="496.7" x2="943.0" y2="496.7" stroke="#cfcfcf" stroke-width="0.6" stroke-dasharray="1,1.3"/>
<line x1="792.8" y1="507.5" x2="943.0" y2="507.5" stroke="#cfcfcf" stroke-width="0.6" stroke-dasharray="1,1.3"/>
<text x="790.5" y="422.8" font-size="6" fill="#4a4a4a" text-anchor="end">1.50</text>
<text x="946.0" y="422.8" font-size="6" fill="#4a4a4a">1.50</text>
<text x="790.5" y="433.7" font-size="6" fill="#4a4a4a" text-anchor="end">1.25</text>
<text x="946.0" y="433.7" font-size="6" fill="#4a4a4a">1.25</text>
<text x="790.5" y="444.5" font-size="6" fill="#4a4a4a" text-anchor="end">1.00</text>
<text x="946.0" y="444.5" font-size="6" fill="#4a4a4a">1.00</text>
<text x="790.5" y="455.4" font-size="6" fill="#4a4a4a" text-anchor="end">0.75</text>
<text x="946.0" y="455.4" font-size="6" fill="#4a4a4a">0.75</text>
<text x="790.5" y="466.2" font-size="6" fill="#4a4a4a" text-anchor="end">0.50</text>
<text x="946.0" y="466.2" font-size="6" fill="#4a4a4a">0.50</text>
<text x="790.5" y="477.1" font-size="6" fill="#4a4a4a" text-anchor="end">0.25</text>
<text x="946.0" y="477.1" font-size="6" fill="#4a4a4a">0.25</text>
<text x="790.5" y="487.9" font-size="6" fill="#4a4a4a" text-anchor="end">0.00</text>
<text x="946.0" y="487.9" font-size="6" fill="#4a4a4a">0.00</text>
<text x="790.5" y="498.8" font-size="6" fill="#4a4a4a" text-anchor="end">-0.25</text>
<text x="946.0" y="498.8" font-size="6" fill="#4a4a4a">-0.25</text>
<text x="790.5" y="509.6" font-size="6" fill="#4a4a4a" text-anchor="end">-0.50</text>
<text x="946.0" y="509.6" font-size="6" fill="#4a4a4a">-0.50</text>
<text x="800.0" y="519.0" font-size="6" fill="#4a4a4a" text-anchor="middle">13</text>
<line x1="793.7" y1="512.5" x2="793.7" y2="514.0" stroke="#999" stroke-width="0.5"/>
<text x="812.6" y="519.0" font-size="6" fill="#4a4a4a" text-anchor="middle">14</text>
<line x1="806.3" y1="512.5" x2="806.3" y2="514.0" stroke="#999" stroke-width="0.5"/>
<text x="825.6" y="519.0" font-size="6" fill="#4a4a4a" text-anchor="middle">15</text>
<line x1="819.3" y1="512.5" x2="819.3" y2="514.0" stroke="#999" stroke-width="0.5"/>
<text x="838.0" y="519.0" font-size="6" fill="#4a4a4a" text-anchor="middle">16</text>
<line x1="831.7" y1="512.5" x2="831.7" y2="514.0" stroke="#999" stroke-width="0.5"/>
<text x="850.6" y="519.0" font-size="6" fill="#4a4a4a" text-anchor="middle">17</text>
<line x1="844.3" y1="512.5" x2="844.3" y2="514.0" stroke="#999" stroke-width="0.5"/>
<text x="863.7" y="519.0" font-size="6" fill="#4a4a4a" text-anchor="middle">18</text>
<line x1="857.4" y1="512.5" x2="857.4" y2="514.0" stroke="#999" stroke-width="0.5"/>
<text x="876.0" y="519.0" font-size="6" fill="#4a4a4a" text-anchor="middle">19</text>
<line x1="869.7" y1="512.5" x2="869.7" y2="514.0" stroke="#999" stroke-width="0.5"/>
<text x="888.5" y="519.0" font-size="6" fill="#4a4a4a" text-anchor="middle">20</text>
<line x1="882.2" y1="512.5" x2="882.2" y2="514.0" stroke="#999" stroke-width="0.5"/>
<text x="901.4" y="519.0" font-size="6" fill="#4a4a4a" text-anchor="middle">21</text>
<line x1="895.1" y1="512.5" x2="895.1" y2="514.0" stroke="#999" stroke-width="0.5"/>
<text x="914.0" y="519.0" font-size="6" fill="#4a4a4a" text-anchor="middle">22</text>
<line x1="907.7" y1="512.5" x2="907.7" y2="514.0" stroke="#999" stroke-width="0.5"/>
<text x="926.6" y="519.0" font-size="6" fill="#4a4a4a" text-anchor="middle">23</text>
<line x1="920.3" y1="512.5" x2="920.3" y2="514.0" stroke="#999" stroke-width="0.5"/>
<text x="936.0" y="519.0" font-size="6" fill="#4a4a4a" text-anchor="middle">24</text>
<line x1="929.7" y1="512.5" x2="929.7" y2="514.0" stroke="#999" stroke-width="0.5"/>
<text x="956.5" y="526.5" font-size="3.6" fill="#555" text-anchor="end">Sources: Swedbank &amp; Macrobond</text>
<text x="798.3" y="429.0" font-size="5.5" fill="#555">%</text>
<polyline points="793.9,442.4 806.0,442.4 806.0,453.2 812.0,453.2 812.0,474.9 816.0,474.9 816.0,485.8 819.0,485.8 819.0,490.1 821.0,490.1 821.0,496.7 825.0,496.7 825.0,501.0 833.9,501.0 833.9,507.5 869.4,507.5 869.4,496.7 881.7,496.7 881.7,485.8 915.0,485.8" fill="none" stroke="#e2803f" stroke-width="1.3"/>
<line x1="915.0" y1="485.8" x2="937.0" y2="485.8" stroke="#e2803f" stroke-width="1.1" stroke-dasharray="2,1.5"/>
<polyline points="915.0,484.4 920.6,475.6 926.1,453.3 930.6,435.6 935.0,423.3 940.6,420.0" fill="none" stroke="#f0cf45" stroke-width="1.1" stroke-dasharray="2,1.5"/>
<polyline points="915.0,485.5 930.0,486.5 937.0,484.0 944.0,478.0" fill="none" stroke="#f0cf45" stroke-width="1.0" stroke-dasharray="2,1.5"/>
<text x="824.6" y="453.3" font-size="7" fill="#e8874a">Repo Rate</text>
<text x="899.4" y="467.0" font-size="5.2" fill="#333">Riksbank rate pat</text>
<line x1="919.0" y1="470.0" x2="930.0" y2="482.0" stroke="#333" stroke-width="0.5"/>
<circle cx="933.9" cy="484.4" r="3" fill="none" stroke="#444" stroke-width="0.5"/>
<text x="897.0" y="491.8" font-size="6.5" fill="#f0d060">RIBA rate curve</text>
<text x="968.9" y="413.5" font-size="6" fill="#5a4e4e" textLength="99" lengthAdjust="spacingAndGlyphs">Norges Bank policy rate with rate path</text>
<line x1="981.0" y1="420.7" x2="1138.0" y2="420.7" stroke="#cfcfcf" stroke-width="0.6" stroke-dasharray="1,1.3"/>
<line x1="981.0" y1="435.2" x2="1138.0" y2="435.2" stroke="#cfcfcf" stroke-width="0.6" stroke-dasharray="1,1.3"/>
<line x1="981.0" y1="449.7" x2="1138.0" y2="449.7" stroke="#cfcfcf" stroke-width="0.6" stroke-dasharray="1,1.3"/>
<line x1="981.0" y1="464.1" x2="1138.0" y2="464.1" stroke="#cfcfcf" stroke-width="0.6" stroke-dasharray="1,1.3"/>
<line x1="981.0" y1="478.6" x2="1138.0" y2="478.6" stroke="#cfcfcf" stroke-width="0.6" stroke-dasharray="1,1.3"/>
<line x1="981.0" y1="493.1" x2="1138.0" y2="493.1" stroke="#cfcfcf" stroke-width="0.6" stroke-dasharray="1,1.3"/>
<line x1="981.0" y1="507.6" x2="1138.0" y2="507.6" stroke="#cfcfcf" stroke-width="0.6" stroke-dasharray="1,1.3"/>
<text x="979.5" y="422.8" font-size="6" fill="#4a4a4a" text-anchor="end">2.5</text>
<text x="1141.8" y="422.8" font-size="6" fill="#4a4a4a">2.5</text>
<text x="979.5" y="437.3" font-size="6" fill="#4a4a4a" text-anchor="end">2.0</text>
<text x="1141.8" y="437.3" font-size="6" fill="#4a4a4a">2.0</text>
<text x="979.5" y="451.8" font-size="6" fill="#4a4a4a" text-anchor="end">1.5</text>
<text x="1141.8" y="451.8" font-size="6" fill="#4a4a4a">1.5</text>
<text x="979.5" y="466.2" font-size="6" fill="#4a4a4a" text-anchor="end">1.0</text>
<text x="1141.8" y="466.2" font-size="6" fill="#4a4a4a">1.0</text>
<text x="979.5" y="480.7" font-size="6" fill="#4a4a4a" text-anchor="end">0.5</text>
<text x="1141.8" y="480.7" font-size="6" fill="#4a4a4a">0.5</text>
<text x="979.5" y="495.2" font-size="6" fill="#4a4a4a" text-anchor="end">0.0</text>
<text x="1141.8" y="495.2" font-size="6" fill="#4a4a4a">0.0</text>
<text x="979.5" y="509.7" font-size="6" fill="#4a4a4a" text-anchor="end">-0.5</text>
<text x="1141.8" y="509.7" font-size="6" fill="#4a4a4a">-0.5</text>
<text x="988.9" y="519.0" font-size="6" fill="#4a4a4a" text-anchor="middle">14</text>
<line x1="982.0" y1="512.5" x2="982.0" y2="514.0" stroke="#999" stroke-width="0.5"/>
<text x="1002.7" y="519.0" font-size="6" fill="#4a4a4a" text-anchor="middle">15</text>
<line x1="995.8" y1="512.5" x2="995.8" y2="514.0" stroke="#999" stroke-width="0.5"/>
<text x="1016.5" y="519.0" font-size="6" fill="#4a4a4a" text-anchor="middle">16</text>
<line x1="1009.6" y1="512.5" x2="1009.6" y2="514.0" stroke="#999" stroke-width="0.5"/>
<text x="1030.2" y="519.0" font-size="6" fill="#4a4a4a" text-anchor="middle">17</text>
<line x1="1023.3" y1="512.5" x2="1023.3" y2="514.0" stroke="#999" stroke-width="0.5"/>
<text x="1044.0" y="519.0" font-size="6" fill="#4a4a4a" text-anchor="middle">18</text>
<line x1="1037.1" y1="512.5" x2="1037.1" y2="514.0" stroke="#999" stroke-width="0.5"/>
<text x="1057.8" y="519.0" font-size="6" fill="#4a4a4a" text-anchor="middle">19</text>
<line x1="1050.9" y1="512.5" x2="1050.9" y2="514.0" stroke="#999" stroke-width="0.5"/>
<text x="1071.6" y="519.0" font-size="6" fill="#4a4a4a" text-anchor="middle">20</text>
<line x1="1064.7" y1="512.5" x2="1064.7" y2="514.0" stroke="#999" stroke-width="0.5"/>
<text x="1085.4" y="519.0" font-size="6" fill="#4a4a4a" text-anchor="middle">21</text>
<line x1="1078.5" y1="512.5" x2="1078.5" y2="514.0" stroke="#999" stroke-width="0.5"/>
<text x="1099.1" y="519.0" font-size="6" fill="#4a4a4a" text-anchor="middle">22</text>
<line x1="1092.2" y1="512.5" x2="1092.2" y2="514.0" stroke="#999" stroke-width="0.5"/>
<text x="1112.9" y="519.0" font-size="6" fill="#4a4a4a" text-anchor="middle">23</text>
<line x1="1106.0" y1="512.5" x2="1106.0" y2="514.0" stroke="#999" stroke-width="0.5"/>
<text x="1126.7" y="519.0" font-size="6" fill="#4a4a4a" text-anchor="middle">24</text>
<line x1="1119.8" y1="512.5" x2="1119.8" y2="514.0" stroke="#999" stroke-width="0.5"/>
<text x="1150.0" y="527.0" font-size="3.6" fill="#555" text-anchor="end">Sources: Swedbank &amp; Macrobond</text>
<text x="987.8" y="428.5" font-size="5.5" fill="#555">%</text>
<line x1="981.0" y1="493.1" x2="1137.8" y2="493.1" stroke="#666" stroke-width="0.8"/>
<polyline points="981.0,449.7 995.6,449.7 995.6,456.9 1002.2,456.9 1002.2,464.1 1006.0,464.1 1006.0,471.4 1013.3,471.4 1013.3,478.6 1047.8,478.6 1047.8,471.4 1054.4,471.4 1054.4,464.1 1058.0,464.1 1058.0,456.9 1061.0,456.9 1061.0,449.7 1068.4,449.7 1068.9,485.9 1071.1,485.9 1071.1,493.1 1088.9,493.1 1088.9,485.9 1092.5,485.9 1092.5,478.6 1096.7,478.6" fill="none" stroke="#e2803f" stroke-width="1.3"/>
<polyline points="1096.7,477.8 1102.2,466.7 1107.8,451.1 1115.6,433.3 1122.2,421.1" fill="none" stroke="#f0cf45" stroke-width="1.1" stroke-dasharray="2,1.5"/>
<polyline points="1096.7,477.8 1104.4,464.4 1113.3,451.1 1122.2,444.4 1133.3,441.8" fill="none" stroke="#e2803f" stroke-width="1.1" stroke-dasharray="2,1.5"/>
<text x="1016.7" y="433.3" font-size="6.5" fill="#e8925a">Actual</text>
<text x="1016.7" y="440.6" font-size="6.5" fill="#e8925a">Policy rate</text>
<text x="1066.7" y="426.6" font-size="6.5" fill="#f0d060">Implied rate</text>
<text x="1066.7" y="433.4" font-size="6.5" fill="#f0d060">expectations</text>
<text x="1066.7" y="440.3" font-size="6.5" fill="#f0d060">from FRAs*</text>
<text x="1105.6" y="477.5" font-size="5.4" fill="#e8925a">Norges Bank</text>
<text x="1105.6" y="483.5" font-size="5.4" fill="#e8925a">rate path</text>
<text x="982.0" y="510.0" font-size="5.4" fill="#777">*) Assumption: NIBOR spread normalising to 30 bps</text>
<g fill="none" stroke="#ffffff" stroke-linecap="round" stroke-linejoin="round">
<polyline points="797.8,101.5 808.75,62.6 848.3,107.2" stroke-width="6.4"/>
<line x1="799.5" y1="101" x2="841.6" y2="50.6" stroke-width="10.5"/>
</g>
<path d="M836,54 C837,45 847,44 848.2,50 L851.8,107 C852,112 845,112.5 844.8,107.5 Z" fill="#ffffff"/>
<text x="865.5" y="98.4" font-size="57" fill="#ffffff" textLength="361" lengthAdjust="spacingAndGlyphs" stroke="#ffffff" stroke-width="0.9">Mergermarket</text>
<rect x="13" y="600" width="617" height="107" fill="#4898ae"/>
<g fill="none" stroke-linecap="round" stroke-linejoin="round">
<polyline points="518.5,681 543.5,601 621,692" stroke="#3a6a8e" stroke-width="11"/>
<line x1="521.5" y1="688" x2="618.5" y2="572" stroke="#64b6c3" stroke-width="16.5"/>
</g>
<path d="M609.5,571 C610,562 627,561 628,570 L634.6,694 C635,702 622,702 622.4,694 Z" fill="#64b6c3"/>
<text x="39.0" y="644.7" font-size="28.8" fill="#ffffff" font-weight="bold" textLength="219" lengthAdjust="spacingAndGlyphs">Mattias Persson</text>
<text x="39.9" y="667.2" font-size="17.7" fill="#ffffff" textLength="397.4" lengthAdjust="spacingAndGlyphs" stroke="#ffffff" stroke-width="0.8">Chief Economist &amp; Global Head of Macro Analysis</text>
<text x="39.9" y="690.7" font-size="17.7" fill="#ffffff" textLength="82.5" lengthAdjust="spacingAndGlyphs" stroke="#ffffff" stroke-width="0.8">Swedbank</text>
</svg>
</body></html>
